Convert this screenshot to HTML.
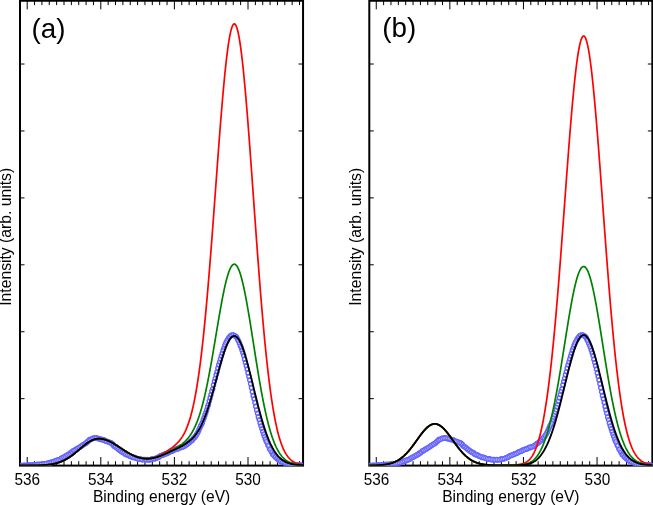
<!DOCTYPE html>
<html><head><meta charset="utf-8"><title>XPS</title>
<style>html,body{margin:0;padding:0;background:#fff;}body{width:653px;height:505px;overflow:hidden;font-family:"Liberation Sans",sans-serif;}svg{display:block;will-change:transform;}</style>
</head><body>
<svg width="653" height="505" viewBox="0 0 653 505" font-family="Liberation Sans, sans-serif" fill="#000"><rect width="653" height="505" fill="#fff"/><clipPath id="ca"><rect x="20.0" y="0.75" width="283.05" height="465.0"/></clipPath>
<rect x="20.0" y="0.75" width="283.05" height="464.85" fill="none" stroke="#000" stroke-width="2"/>
<path d="M27.20,465.6v-8.6M27.20,0.75v8.6M34.56,465.6v-4.4M34.56,0.75v4.4M41.92,465.6v-4.4M41.92,0.75v4.4M49.28,465.6v-4.4M49.28,0.75v4.4M56.64,465.6v-4.4M56.64,0.75v4.4M64.00,465.6v-4.4M64.00,0.75v4.4M71.36,465.6v-4.4M71.36,0.75v4.4M78.72,465.6v-4.4M78.72,0.75v4.4M86.08,465.6v-4.4M86.08,0.75v4.4M93.44,465.6v-4.4M93.44,0.75v4.4M100.80,465.6v-8.6M100.80,0.75v8.6M108.16,465.6v-4.4M108.16,0.75v4.4M115.52,465.6v-4.4M115.52,0.75v4.4M122.88,465.6v-4.4M122.88,0.75v4.4M130.24,465.6v-4.4M130.24,0.75v4.4M137.60,465.6v-4.4M137.60,0.75v4.4M144.96,465.6v-4.4M144.96,0.75v4.4M152.32,465.6v-4.4M152.32,0.75v4.4M159.68,465.6v-4.4M159.68,0.75v4.4M167.04,465.6v-4.4M167.04,0.75v4.4M174.40,465.6v-8.6M174.40,0.75v8.6M181.76,465.6v-4.4M181.76,0.75v4.4M189.12,465.6v-4.4M189.12,0.75v4.4M196.48,465.6v-4.4M196.48,0.75v4.4M203.84,465.6v-4.4M203.84,0.75v4.4M211.20,465.6v-4.4M211.20,0.75v4.4M218.56,465.6v-4.4M218.56,0.75v4.4M225.92,465.6v-4.4M225.92,0.75v4.4M233.28,465.6v-4.4M233.28,0.75v4.4M240.64,465.6v-4.4M240.64,0.75v4.4M248.00,465.6v-8.6M248.00,0.75v8.6M255.36,465.6v-4.4M255.36,0.75v4.4M262.72,465.6v-4.4M262.72,0.75v4.4M270.08,465.6v-4.4M270.08,0.75v4.4M277.44,465.6v-4.4M277.44,0.75v4.4M284.80,465.6v-4.4M284.80,0.75v4.4M292.16,465.6v-4.4M292.16,0.75v4.4M299.52,465.6v-4.4M299.52,0.75v4.4" stroke="#000" stroke-width="1" fill="none"/>
<path d="M20.0,398.67h4.5M303.05,398.67h-4.5M20.0,331.74h4.5M303.05,331.74h-4.5M20.0,264.81h4.5M303.05,264.81h-4.5M20.0,197.88h4.5M303.05,197.88h-4.5M20.0,130.95h4.5M303.05,130.95h-4.5M20.0,64.02h4.5M303.05,64.02h-4.5" stroke="#000" stroke-width="1" fill="none"/>
<g clip-path="url(#ca)" fill="none" stroke="#6666ff" stroke-width="1.5"><circle cx="18.04" cy="465.03" r="2.0"/><circle cx="18.90" cy="465.55" r="2.0"/><circle cx="19.76" cy="465.60" r="2.0"/><circle cx="20.62" cy="465.80" r="2.0"/><circle cx="21.48" cy="465.48" r="2.0"/><circle cx="22.34" cy="465.55" r="2.0"/><circle cx="23.21" cy="465.59" r="2.0"/><circle cx="24.07" cy="465.36" r="2.0"/><circle cx="24.93" cy="465.31" r="2.0"/><circle cx="25.79" cy="465.65" r="2.0"/><circle cx="26.65" cy="465.57" r="2.0"/><circle cx="27.51" cy="465.43" r="2.0"/><circle cx="28.37" cy="465.10" r="2.0"/><circle cx="29.23" cy="465.09" r="2.0"/><circle cx="30.10" cy="465.51" r="2.0"/><circle cx="30.96" cy="465.42" r="2.0"/><circle cx="31.82" cy="464.91" r="2.0"/><circle cx="32.68" cy="464.65" r="2.0"/><circle cx="33.54" cy="465.00" r="2.0"/><circle cx="34.40" cy="465.10" r="2.0"/><circle cx="35.26" cy="464.59" r="2.0"/><circle cx="36.12" cy="464.87" r="2.0"/><circle cx="36.99" cy="464.53" r="2.0"/><circle cx="37.85" cy="464.24" r="2.0"/><circle cx="38.71" cy="464.39" r="2.0"/><circle cx="39.57" cy="464.43" r="2.0"/><circle cx="40.43" cy="464.16" r="2.0"/><circle cx="41.29" cy="464.40" r="2.0"/><circle cx="42.15" cy="464.16" r="2.0"/><circle cx="43.01" cy="464.14" r="2.0"/><circle cx="43.88" cy="463.92" r="2.0"/><circle cx="44.74" cy="463.86" r="2.0"/><circle cx="45.60" cy="463.65" r="2.0"/><circle cx="46.46" cy="463.55" r="2.0"/><circle cx="47.32" cy="463.29" r="2.0"/><circle cx="48.18" cy="463.15" r="2.0"/><circle cx="49.04" cy="462.92" r="2.0"/><circle cx="49.90" cy="462.42" r="2.0"/><circle cx="50.77" cy="462.91" r="2.0"/><circle cx="51.63" cy="461.95" r="2.0"/><circle cx="52.49" cy="462.06" r="2.0"/><circle cx="53.35" cy="462.02" r="2.0"/><circle cx="54.21" cy="461.46" r="2.0"/><circle cx="55.07" cy="461.08" r="2.0"/><circle cx="55.93" cy="460.51" r="2.0"/><circle cx="56.79" cy="460.70" r="2.0"/><circle cx="57.66" cy="460.03" r="2.0"/><circle cx="58.52" cy="459.70" r="2.0"/><circle cx="59.38" cy="459.78" r="2.0"/><circle cx="60.24" cy="459.27" r="2.0"/><circle cx="61.10" cy="458.42" r="2.0"/><circle cx="61.96" cy="457.98" r="2.0"/><circle cx="62.82" cy="457.44" r="2.0"/><circle cx="63.69" cy="457.13" r="2.0"/><circle cx="64.55" cy="456.70" r="2.0"/><circle cx="65.41" cy="456.29" r="2.0"/><circle cx="66.27" cy="455.53" r="2.0"/><circle cx="67.13" cy="455.53" r="2.0"/><circle cx="67.99" cy="454.82" r="2.0"/><circle cx="68.85" cy="454.12" r="2.0"/><circle cx="69.71" cy="454.02" r="2.0"/><circle cx="70.58" cy="452.70" r="2.0"/><circle cx="71.44" cy="452.63" r="2.0"/><circle cx="72.30" cy="451.85" r="2.0"/><circle cx="73.16" cy="450.71" r="2.0"/><circle cx="74.02" cy="450.88" r="2.0"/><circle cx="74.88" cy="450.26" r="2.0"/><circle cx="75.74" cy="449.22" r="2.0"/><circle cx="76.60" cy="449.37" r="2.0"/><circle cx="77.47" cy="448.71" r="2.0"/><circle cx="78.33" cy="447.97" r="2.0"/><circle cx="79.19" cy="447.48" r="2.0"/><circle cx="80.05" cy="446.93" r="2.0"/><circle cx="80.91" cy="446.44" r="2.0"/><circle cx="81.77" cy="445.64" r="2.0"/><circle cx="82.63" cy="445.13" r="2.0"/><circle cx="83.49" cy="444.61" r="2.0"/><circle cx="84.36" cy="444.27" r="2.0"/><circle cx="85.22" cy="443.61" r="2.0"/><circle cx="86.08" cy="443.24" r="2.0"/><circle cx="86.94" cy="441.92" r="2.0"/><circle cx="87.80" cy="441.83" r="2.0"/><circle cx="88.66" cy="440.44" r="2.0"/><circle cx="89.52" cy="439.56" r="2.0"/><circle cx="90.38" cy="439.80" r="2.0"/><circle cx="91.25" cy="439.29" r="2.0"/><circle cx="92.11" cy="438.83" r="2.0"/><circle cx="92.97" cy="438.16" r="2.0"/><circle cx="93.83" cy="438.32" r="2.0"/><circle cx="94.69" cy="437.99" r="2.0"/><circle cx="95.55" cy="438.09" r="2.0"/><circle cx="96.41" cy="438.12" r="2.0"/><circle cx="97.27" cy="437.90" r="2.0"/><circle cx="98.14" cy="438.69" r="2.0"/><circle cx="99.00" cy="438.68" r="2.0"/><circle cx="99.86" cy="438.89" r="2.0"/><circle cx="100.72" cy="438.99" r="2.0"/><circle cx="101.58" cy="439.77" r="2.0"/><circle cx="102.44" cy="439.44" r="2.0"/><circle cx="103.30" cy="439.89" r="2.0"/><circle cx="104.17" cy="440.08" r="2.0"/><circle cx="105.03" cy="440.60" r="2.0"/><circle cx="105.89" cy="441.36" r="2.0"/><circle cx="106.75" cy="441.47" r="2.0"/><circle cx="107.61" cy="441.47" r="2.0"/><circle cx="108.47" cy="442.06" r="2.0"/><circle cx="109.33" cy="442.49" r="2.0"/><circle cx="110.19" cy="442.46" r="2.0"/><circle cx="111.06" cy="442.81" r="2.0"/><circle cx="111.92" cy="443.91" r="2.0"/><circle cx="112.78" cy="444.04" r="2.0"/><circle cx="113.64" cy="445.70" r="2.0"/><circle cx="114.50" cy="446.44" r="2.0"/><circle cx="115.36" cy="446.46" r="2.0"/><circle cx="116.22" cy="447.50" r="2.0"/><circle cx="117.08" cy="448.05" r="2.0"/><circle cx="117.95" cy="448.79" r="2.0"/><circle cx="118.81" cy="449.63" r="2.0"/><circle cx="119.67" cy="450.06" r="2.0"/><circle cx="120.53" cy="450.77" r="2.0"/><circle cx="121.39" cy="451.76" r="2.0"/><circle cx="122.25" cy="451.90" r="2.0"/><circle cx="123.11" cy="452.47" r="2.0"/><circle cx="123.97" cy="452.61" r="2.0"/><circle cx="124.84" cy="453.88" r="2.0"/><circle cx="125.70" cy="454.10" r="2.0"/><circle cx="126.56" cy="454.70" r="2.0"/><circle cx="127.42" cy="455.07" r="2.0"/><circle cx="128.28" cy="455.04" r="2.0"/><circle cx="129.14" cy="455.73" r="2.0"/><circle cx="130.00" cy="456.29" r="2.0"/><circle cx="130.86" cy="456.47" r="2.0"/><circle cx="131.73" cy="456.65" r="2.0"/><circle cx="132.59" cy="457.40" r="2.0"/><circle cx="133.45" cy="457.52" r="2.0"/><circle cx="134.31" cy="457.35" r="2.0"/><circle cx="135.17" cy="457.79" r="2.0"/><circle cx="136.03" cy="458.25" r="2.0"/><circle cx="136.89" cy="458.58" r="2.0"/><circle cx="137.75" cy="458.68" r="2.0"/><circle cx="138.62" cy="459.19" r="2.0"/><circle cx="139.48" cy="458.72" r="2.0"/><circle cx="140.34" cy="459.01" r="2.0"/><circle cx="141.20" cy="459.20" r="2.0"/><circle cx="142.06" cy="459.69" r="2.0"/><circle cx="142.92" cy="459.66" r="2.0"/><circle cx="143.78" cy="459.45" r="2.0"/><circle cx="144.64" cy="459.60" r="2.0"/><circle cx="145.51" cy="459.85" r="2.0"/><circle cx="146.37" cy="459.64" r="2.0"/><circle cx="147.23" cy="459.56" r="2.0"/><circle cx="148.09" cy="459.95" r="2.0"/><circle cx="148.95" cy="459.85" r="2.0"/><circle cx="149.81" cy="459.83" r="2.0"/><circle cx="150.67" cy="459.76" r="2.0"/><circle cx="151.54" cy="459.09" r="2.0"/><circle cx="152.40" cy="458.96" r="2.0"/><circle cx="153.26" cy="458.78" r="2.0"/><circle cx="154.12" cy="458.92" r="2.0"/><circle cx="154.98" cy="458.64" r="2.0"/><circle cx="155.84" cy="458.14" r="2.0"/><circle cx="156.70" cy="457.98" r="2.0"/><circle cx="157.56" cy="457.59" r="2.0"/><circle cx="158.43" cy="457.48" r="2.0"/><circle cx="159.29" cy="456.79" r="2.0"/><circle cx="160.15" cy="456.12" r="2.0"/><circle cx="161.01" cy="455.78" r="2.0"/><circle cx="161.87" cy="455.35" r="2.0"/><circle cx="162.73" cy="455.32" r="2.0"/><circle cx="163.59" cy="454.68" r="2.0"/><circle cx="164.45" cy="454.60" r="2.0"/><circle cx="165.32" cy="453.86" r="2.0"/><circle cx="166.18" cy="453.78" r="2.0"/><circle cx="167.04" cy="453.41" r="2.0"/><circle cx="167.90" cy="453.03" r="2.0"/><circle cx="168.76" cy="452.29" r="2.0"/><circle cx="169.62" cy="451.98" r="2.0"/><circle cx="170.48" cy="451.60" r="2.0"/><circle cx="171.34" cy="451.53" r="2.0"/><circle cx="172.21" cy="450.82" r="2.0"/><circle cx="173.07" cy="450.84" r="2.0"/><circle cx="173.93" cy="449.74" r="2.0"/><circle cx="174.79" cy="449.79" r="2.0"/><circle cx="175.65" cy="449.36" r="2.0"/><circle cx="176.51" cy="449.09" r="2.0"/><circle cx="177.37" cy="449.12" r="2.0"/><circle cx="178.23" cy="448.73" r="2.0"/><circle cx="179.10" cy="448.06" r="2.0"/><circle cx="179.96" cy="447.34" r="2.0"/><circle cx="180.82" cy="447.65" r="2.0"/><circle cx="181.68" cy="447.19" r="2.0"/><circle cx="182.54" cy="446.66" r="2.0"/><circle cx="183.40" cy="446.68" r="2.0"/><circle cx="184.26" cy="446.26" r="2.0"/><circle cx="185.12" cy="445.50" r="2.0"/><circle cx="185.99" cy="444.93" r="2.0"/><circle cx="186.85" cy="444.50" r="2.0"/><circle cx="187.71" cy="443.46" r="2.0"/><circle cx="188.57" cy="443.27" r="2.0"/><circle cx="189.43" cy="442.48" r="2.0"/><circle cx="190.29" cy="441.45" r="2.0"/><circle cx="191.15" cy="440.64" r="2.0"/><circle cx="192.02" cy="440.61" r="2.0"/><circle cx="192.88" cy="439.37" r="2.0"/><circle cx="193.74" cy="437.97" r="2.0"/><circle cx="194.60" cy="437.50" r="2.0"/><circle cx="195.46" cy="436.18" r="2.0"/><circle cx="196.32" cy="434.97" r="2.0"/><circle cx="197.18" cy="433.58" r="2.0"/><circle cx="198.04" cy="432.00" r="2.0"/><circle cx="198.91" cy="430.04" r="2.0"/><circle cx="199.77" cy="428.01" r="2.0"/><circle cx="200.63" cy="426.07" r="2.0"/><circle cx="201.49" cy="424.45" r="2.0"/><circle cx="202.35" cy="422.82" r="2.0"/><circle cx="203.21" cy="420.10" r="2.0"/><circle cx="204.07" cy="417.80" r="2.0"/><circle cx="204.93" cy="415.14" r="2.0"/><circle cx="205.80" cy="412.65" r="2.0"/><circle cx="206.66" cy="410.35" r="2.0"/><circle cx="207.52" cy="406.97" r="2.0"/><circle cx="208.38" cy="404.66" r="2.0"/><circle cx="209.24" cy="401.30" r="2.0"/><circle cx="210.10" cy="397.95" r="2.0"/><circle cx="210.96" cy="394.77" r="2.0"/><circle cx="211.82" cy="391.24" r="2.0"/><circle cx="212.69" cy="388.94" r="2.0"/><circle cx="213.55" cy="384.94" r="2.0"/><circle cx="214.41" cy="381.52" r="2.0"/><circle cx="215.27" cy="378.43" r="2.0"/><circle cx="216.13" cy="374.85" r="2.0"/><circle cx="216.99" cy="371.98" r="2.0"/><circle cx="217.85" cy="368.27" r="2.0"/><circle cx="218.71" cy="365.09" r="2.0"/><circle cx="219.58" cy="362.34" r="2.0"/><circle cx="220.44" cy="359.22" r="2.0"/><circle cx="221.30" cy="356.17" r="2.0"/><circle cx="222.16" cy="353.49" r="2.0"/><circle cx="223.02" cy="350.41" r="2.0"/><circle cx="223.88" cy="348.13" r="2.0"/><circle cx="224.74" cy="345.52" r="2.0"/><circle cx="225.60" cy="343.43" r="2.0"/><circle cx="226.47" cy="341.78" r="2.0"/><circle cx="227.33" cy="340.13" r="2.0"/><circle cx="228.19" cy="338.84" r="2.0"/><circle cx="229.05" cy="337.56" r="2.0"/><circle cx="229.91" cy="336.56" r="2.0"/><circle cx="230.77" cy="335.53" r="2.0"/><circle cx="231.63" cy="335.35" r="2.0"/><circle cx="232.49" cy="334.89" r="2.0"/><circle cx="233.36" cy="334.91" r="2.0"/><circle cx="234.22" cy="335.41" r="2.0"/><circle cx="235.08" cy="335.94" r="2.0"/><circle cx="235.94" cy="336.42" r="2.0"/><circle cx="236.80" cy="337.54" r="2.0"/><circle cx="237.66" cy="339.56" r="2.0"/><circle cx="238.52" cy="341.10" r="2.0"/><circle cx="239.39" cy="343.08" r="2.0"/><circle cx="240.25" cy="345.24" r="2.0"/><circle cx="241.11" cy="347.18" r="2.0"/><circle cx="241.97" cy="350.01" r="2.0"/><circle cx="242.83" cy="352.68" r="2.0"/><circle cx="243.69" cy="355.53" r="2.0"/><circle cx="244.55" cy="359.24" r="2.0"/><circle cx="245.41" cy="362.47" r="2.0"/><circle cx="246.28" cy="365.83" r="2.0"/><circle cx="247.14" cy="369.10" r="2.0"/><circle cx="248.00" cy="372.99" r="2.0"/><circle cx="248.86" cy="376.48" r="2.0"/><circle cx="249.72" cy="380.07" r="2.0"/><circle cx="250.58" cy="383.82" r="2.0"/><circle cx="251.44" cy="387.76" r="2.0"/><circle cx="252.30" cy="391.82" r="2.0"/><circle cx="253.17" cy="395.74" r="2.0"/><circle cx="254.03" cy="398.76" r="2.0"/><circle cx="254.89" cy="402.57" r="2.0"/><circle cx="255.75" cy="406.49" r="2.0"/><circle cx="256.61" cy="409.88" r="2.0"/><circle cx="257.47" cy="413.28" r="2.0"/><circle cx="258.33" cy="416.90" r="2.0"/><circle cx="259.19" cy="419.62" r="2.0"/><circle cx="260.06" cy="422.98" r="2.0"/><circle cx="260.92" cy="425.84" r="2.0"/><circle cx="261.78" cy="428.43" r="2.0"/><circle cx="262.64" cy="431.37" r="2.0"/><circle cx="263.50" cy="433.81" r="2.0"/><circle cx="264.36" cy="436.31" r="2.0"/><circle cx="265.22" cy="438.74" r="2.0"/><circle cx="266.08" cy="440.93" r="2.0"/><circle cx="266.95" cy="442.55" r="2.0"/><circle cx="267.81" cy="444.99" r="2.0"/><circle cx="268.67" cy="446.35" r="2.0"/><circle cx="269.53" cy="448.68" r="2.0"/><circle cx="270.39" cy="449.83" r="2.0"/><circle cx="271.25" cy="451.41" r="2.0"/><circle cx="272.11" cy="452.97" r="2.0"/><circle cx="272.97" cy="454.68" r="2.0"/><circle cx="273.84" cy="454.75" r="2.0"/><circle cx="274.70" cy="456.46" r="2.0"/><circle cx="275.56" cy="457.36" r="2.0"/><circle cx="276.42" cy="457.94" r="2.0"/><circle cx="277.28" cy="458.73" r="2.0"/><circle cx="278.14" cy="459.38" r="2.0"/><circle cx="279.00" cy="460.15" r="2.0"/><circle cx="279.87" cy="461.04" r="2.0"/><circle cx="280.73" cy="460.97" r="2.0"/><circle cx="281.59" cy="461.88" r="2.0"/><circle cx="282.45" cy="462.02" r="2.0"/><circle cx="283.31" cy="462.31" r="2.0"/><circle cx="284.17" cy="462.50" r="2.0"/><circle cx="285.03" cy="463.16" r="2.0"/><circle cx="285.89" cy="463.46" r="2.0"/><circle cx="286.76" cy="463.69" r="2.0"/><circle cx="287.62" cy="464.32" r="2.0"/><circle cx="288.48" cy="464.25" r="2.0"/><circle cx="289.34" cy="464.50" r="2.0"/><circle cx="290.20" cy="464.70" r="2.0"/><circle cx="291.06" cy="464.52" r="2.0"/><circle cx="291.92" cy="464.77" r="2.0"/><circle cx="292.78" cy="464.41" r="2.0"/><circle cx="293.65" cy="464.53" r="2.0"/><circle cx="294.51" cy="465.46" r="2.0"/><circle cx="295.37" cy="465.03" r="2.0"/><circle cx="296.23" cy="465.37" r="2.0"/><circle cx="297.09" cy="465.03" r="2.0"/><circle cx="297.95" cy="465.17" r="2.0"/><circle cx="298.81" cy="465.01" r="2.0"/><circle cx="299.67" cy="465.18" r="2.0"/><circle cx="300.54" cy="465.09" r="2.0"/><circle cx="301.40" cy="465.36" r="2.0"/><circle cx="302.26" cy="465.80" r="2.0"/><circle cx="303.12" cy="465.59" r="2.0"/><circle cx="303.98" cy="465.51" r="2.0"/><circle cx="304.84" cy="465.42" r="2.0"/><circle cx="305.70" cy="465.56" r="2.0"/></g>
<g clip-path="url(#ca)" fill="none" stroke="#fff" stroke-opacity="0.9"><path d="M18.13,463.89L17.94,466.18" stroke-width="0.50"/><path d="M19.84,464.45L19.68,466.75" stroke-width="0.50"/><path d="M21.51,464.33L21.46,466.63" stroke-width="0.50"/><path d="M23.19,464.44L23.22,466.74" stroke-width="0.50"/><path d="M24.89,464.16L24.96,466.46" stroke-width="0.50"/><path d="M26.60,464.42L26.70,466.72" stroke-width="0.50"/><path d="M28.31,463.95L28.44,466.24" stroke-width="0.50"/><path d="M30.01,464.37L30.18,466.66" stroke-width="0.50"/><path d="M31.72,463.77L31.91,466.06" stroke-width="0.50"/><path d="M33.44,463.86L33.65,466.15" stroke-width="0.50"/><path d="M35.15,463.45L35.37,465.74" stroke-width="0.50"/><path d="M36.88,463.39L37.10,465.68" stroke-width="0.50"/><path d="M38.61,463.24L38.81,465.53" stroke-width="0.50"/><path d="M40.33,463.02L40.53,465.31" stroke-width="0.50"/><path d="M42.03,463.02L42.28,465.31" stroke-width="0.50"/><path d="M43.71,462.78L44.04,465.06" stroke-width="0.50"/><path d="M45.39,462.52L45.81,464.78" stroke-width="0.50"/><path d="M47.08,462.17L47.56,464.42" stroke-width="0.50"/><path d="M48.77,461.80L49.31,464.04" stroke-width="0.50"/><path d="M50.47,461.80L51.06,464.02" stroke-width="0.50"/><path d="M52.15,460.96L52.82,463.16" stroke-width="0.50"/><path d="M53.84,460.37L54.59,462.54" stroke-width="0.50"/><path d="M55.53,459.43L56.34,461.58" stroke-width="0.50"/><path d="M57.22,458.97L58.09,461.10" stroke-width="0.51"/><path d="M58.89,458.74L59.86,460.83" stroke-width="0.51"/><path d="M60.58,457.40L61.63,459.44" stroke-width="0.51"/><path d="M62.28,456.43L63.37,458.45" stroke-width="0.52"/><path d="M64.00,455.69L65.10,457.71" stroke-width="0.52"/><path d="M65.70,454.53L66.84,456.53" stroke-width="0.52"/><path d="M67.39,453.83L68.59,455.80" stroke-width="0.52"/><path d="M69.08,453.06L70.35,454.98" stroke-width="0.53"/><path d="M70.79,451.68L72.08,453.58" stroke-width="0.53"/><path d="M72.53,449.75L73.79,451.67" stroke-width="0.53"/><path d="M74.27,449.29L75.50,451.24" stroke-width="0.52"/><path d="M76.00,448.39L77.21,450.35" stroke-width="0.52"/><path d="M77.71,447.00L78.94,448.94" stroke-width="0.52"/><path d="M79.42,445.96L80.67,447.89" stroke-width="0.53"/><path d="M81.14,444.68L82.40,446.60" stroke-width="0.53"/><path d="M82.85,443.65L84.14,445.56" stroke-width="0.53"/><path d="M84.55,442.67L85.89,444.54" stroke-width="0.53"/><path d="M86.26,440.99L87.62,442.85" stroke-width="0.53"/><path d="M88.02,439.49L89.31,441.39" stroke-width="0.53"/><path d="M89.83,438.79L90.94,440.81" stroke-width="0.52"/><path d="M91.70,437.76L92.52,439.91" stroke-width="0.50"/><path d="M93.60,437.19L94.06,439.45" stroke-width="0.50"/><path d="M95.52,436.94L95.58,439.24" stroke-width="0.50"/><path d="M97.41,436.76L97.14,439.05" stroke-width="0.50"/><path d="M99.25,437.55L98.75,439.80" stroke-width="0.50"/><path d="M101.03,437.88L100.41,440.10" stroke-width="0.50"/><path d="M102.80,438.35L102.08,440.53" stroke-width="0.50"/><path d="M104.57,439.00L103.76,441.16" stroke-width="0.50"/><path d="M106.31,440.29L105.46,442.43" stroke-width="0.51"/><path d="M108.06,440.41L107.16,442.53" stroke-width="0.51"/><path d="M109.85,441.46L108.82,443.52" stroke-width="0.51"/><path d="M111.67,441.84L110.44,443.79" stroke-width="0.52"/><path d="M113.47,443.12L112.09,444.96" stroke-width="0.54"/><path d="M115.22,445.54L113.78,447.34" stroke-width="0.54"/><path d="M116.94,446.61L115.51,448.40" stroke-width="0.54"/><path d="M118.65,447.88L117.24,449.70" stroke-width="0.54"/><path d="M120.35,449.14L118.99,450.99" stroke-width="0.53"/><path d="M122.04,450.81L120.74,452.71" stroke-width="0.53"/><path d="M123.73,451.49L122.50,453.44" stroke-width="0.52"/><path d="M125.41,452.88L124.26,454.87" stroke-width="0.52"/><path d="M127.09,453.68L126.03,455.71" stroke-width="0.51"/><path d="M128.77,454.00L127.79,456.08" stroke-width="0.51"/><path d="M130.45,455.23L129.56,457.35" stroke-width="0.51"/><path d="M132.13,455.57L131.32,457.72" stroke-width="0.50"/><path d="M133.81,456.43L133.09,458.61" stroke-width="0.50"/><path d="M135.50,456.69L134.84,458.89" stroke-width="0.50"/><path d="M137.18,457.46L136.61,459.69" stroke-width="0.50"/><path d="M138.85,458.07L138.38,460.32" stroke-width="0.50"/><path d="M140.53,457.88L140.15,460.15" stroke-width="0.50"/><path d="M142.21,458.55L141.92,460.83" stroke-width="0.50"/><path d="M143.88,458.31L143.69,460.60" stroke-width="0.50"/><path d="M145.56,458.70L145.46,461.00" stroke-width="0.50"/><path d="M147.22,458.41L147.24,460.71" stroke-width="0.50"/><path d="M148.86,458.70L149.05,460.99" stroke-width="0.50"/><path d="M150.49,458.62L150.86,460.89" stroke-width="0.50"/><path d="M152.15,457.84L152.64,460.08" stroke-width="0.50"/><path d="M153.82,457.81L154.42,460.03" stroke-width="0.50"/><path d="M155.47,457.05L156.21,459.23" stroke-width="0.50"/><path d="M157.13,456.52L158.00,458.65" stroke-width="0.51"/><path d="M158.81,455.74L159.76,457.84" stroke-width="0.51"/><path d="M160.53,454.73L161.49,456.83" stroke-width="0.51"/><path d="M162.27,454.26L163.19,456.37" stroke-width="0.51"/><path d="M164.00,453.54L164.91,455.65" stroke-width="0.51"/><path d="M165.71,452.73L166.64,454.84" stroke-width="0.51"/><path d="M167.42,451.99L168.38,454.08" stroke-width="0.51"/><path d="M169.14,450.94L170.10,453.03" stroke-width="0.51"/><path d="M170.88,450.48L171.81,452.58" stroke-width="0.51"/><path d="M172.61,449.78L173.52,451.89" stroke-width="0.51"/><path d="M174.36,448.72L175.22,450.85" stroke-width="0.51"/><path d="M176.09,448.02L176.93,450.16" stroke-width="0.50"/><path d="M177.81,447.66L178.66,449.80" stroke-width="0.51"/><path d="M179.53,446.28L180.39,448.41" stroke-width="0.51"/><path d="M181.23,446.13L182.13,448.25" stroke-width="0.51"/><path d="M182.89,445.65L183.92,447.70" stroke-width="0.51"/><path d="M184.53,444.51L185.72,446.48" stroke-width="0.52"/><path d="M186.19,443.56L187.51,445.44" stroke-width="0.53"/><path d="M187.86,442.37L189.28,444.18" stroke-width="0.54"/><path d="M189.53,440.59L191.06,442.31" stroke-width="0.55"/><path d="M191.19,439.80L192.84,441.41" stroke-width="0.57"/><path d="M192.85,437.24L194.63,438.70" stroke-width="0.59"/><path d="M194.51,435.54L196.41,436.83" stroke-width="0.63"/><path d="M195.35,434.37L197.30,435.58" stroke-width="0.65"/><path d="M196.18,433.01L198.18,434.15" stroke-width="0.67"/><path d="M197.03,431.46L199.06,432.54" stroke-width="0.69"/><path d="M197.87,429.53L199.94,430.55" stroke-width="0.71"/><path d="M198.72,427.53L200.81,428.50" stroke-width="0.73"/><path d="M199.58,425.61L201.68,426.54" stroke-width="0.75"/><path d="M200.43,424.01L202.55,424.90" stroke-width="0.77"/><path d="M201.28,422.40L203.42,423.25" stroke-width="0.79"/><path d="M202.14,419.69L204.29,420.50" stroke-width="0.81"/><path d="M202.99,417.41L205.16,418.19" stroke-width="0.83"/><path d="M203.85,414.76L206.02,415.51" stroke-width="0.85"/><path d="M204.70,412.29L206.89,413.01" stroke-width="0.87"/><path d="M205.56,410.00L207.75,410.69" stroke-width="0.89"/><path d="M206.42,406.64L208.62,407.30" stroke-width="0.92"/><path d="M207.28,404.34L209.48,404.99" stroke-width="0.93"/><path d="M208.13,400.99L210.35,401.62" stroke-width="0.95"/><path d="M208.99,397.65L211.21,398.26" stroke-width="0.97"/><path d="M209.85,394.47L212.07,395.07" stroke-width="0.98"/><path d="M210.71,390.94L212.94,391.53" stroke-width="0.99"/><path d="M211.57,388.64L213.80,389.23" stroke-width="0.99"/><path d="M212.43,384.65L214.66,385.24" stroke-width="1.00"/><path d="M213.30,381.23L215.52,381.81" stroke-width="1.00"/><path d="M214.16,378.14L216.38,378.72" stroke-width="1.00"/><path d="M215.02,374.56L217.24,375.15" stroke-width="0.99"/><path d="M215.88,371.68L218.10,372.28" stroke-width="0.98"/><path d="M216.74,367.97L218.96,368.57" stroke-width="0.97"/><path d="M217.61,364.78L219.82,365.40" stroke-width="0.96"/><path d="M218.47,362.02L220.68,362.65" stroke-width="0.95"/><path d="M219.33,358.90L221.54,359.55" stroke-width="0.93"/><path d="M220.20,355.84L222.40,356.51" stroke-width="0.91"/><path d="M221.06,353.14L223.25,353.84" stroke-width="0.88"/><path d="M221.93,350.04L224.11,350.78" stroke-width="0.85"/><path d="M222.80,347.73L224.96,348.52" stroke-width="0.82"/><path d="M223.68,345.10L225.81,345.95" stroke-width="0.79"/><path d="M224.55,342.96L226.66,343.89" stroke-width="0.75"/><path d="M225.44,341.27L227.50,342.29" stroke-width="0.71"/><path d="M226.33,339.57L228.33,340.70" stroke-width="0.67"/><path d="M228.15,336.84L229.95,338.28" stroke-width="0.59"/><path d="M230.12,334.58L231.43,336.47" stroke-width="0.53"/><path d="M232.38,333.75L232.61,336.04" stroke-width="0.50"/><path d="M234.75,334.39L233.69,336.43" stroke-width="0.51"/><path d="M236.81,335.67L235.07,337.17" stroke-width="0.58"/><path d="M238.66,339.00L236.66,340.13" stroke-width="0.67"/><path d="M239.56,340.60L237.49,341.61" stroke-width="0.71"/><path d="M240.44,342.63L238.33,343.54" stroke-width="0.75"/><path d="M241.32,344.82L239.17,345.65" stroke-width="0.79"/><path d="M242.19,346.80L240.02,347.57" stroke-width="0.83"/><path d="M243.06,349.65L240.88,350.37" stroke-width="0.87"/><path d="M243.93,352.34L241.73,353.01" stroke-width="0.91"/><path d="M244.80,355.22L242.59,355.85" stroke-width="0.94"/><path d="M245.66,358.93L243.44,359.54" stroke-width="0.97"/><path d="M246.53,362.18L244.30,362.76" stroke-width="1.00"/><path d="M247.39,365.54L245.16,366.11" stroke-width="1.00"/><path d="M248.25,368.83L246.02,369.38" stroke-width="1.00"/><path d="M249.12,372.72L246.88,373.26" stroke-width="1.00"/><path d="M249.98,376.21L247.74,376.74" stroke-width="1.00"/><path d="M250.84,379.81L248.60,380.33" stroke-width="1.00"/><path d="M251.70,383.56L249.46,384.08" stroke-width="1.00"/><path d="M252.56,387.50L250.32,388.02" stroke-width="1.00"/><path d="M253.42,391.56L251.18,392.08" stroke-width="1.00"/><path d="M254.29,395.48L252.05,396.00" stroke-width="1.00"/><path d="M255.15,398.50L252.91,399.03" stroke-width="1.00"/><path d="M256.01,402.30L253.77,402.84" stroke-width="1.00"/><path d="M256.87,406.22L254.63,406.76" stroke-width="1.00"/><path d="M257.73,409.60L255.50,410.16" stroke-width="1.00"/><path d="M258.59,412.99L256.36,413.56" stroke-width="1.00"/><path d="M259.44,416.60L257.22,417.19" stroke-width="0.99"/><path d="M260.30,419.32L258.09,419.93" stroke-width="0.96"/><path d="M261.16,422.66L258.95,423.30" stroke-width="0.94"/><path d="M262.02,425.50L259.82,426.17" stroke-width="0.92"/><path d="M262.88,428.09L260.68,428.78" stroke-width="0.90"/><path d="M263.73,431.01L261.55,431.73" stroke-width="0.87"/><path d="M264.59,433.43L262.41,434.18" stroke-width="0.85"/><path d="M265.44,435.91L263.28,436.70" stroke-width="0.83"/><path d="M266.30,438.33L264.15,439.15" stroke-width="0.80"/><path d="M267.15,440.50L265.02,441.36" stroke-width="0.78"/><path d="M268.00,442.10L265.89,443.00" stroke-width="0.76"/><path d="M268.85,444.52L266.76,445.47" stroke-width="0.74"/><path d="M269.70,445.86L267.63,446.85" stroke-width="0.72"/><path d="M270.55,448.15L268.51,449.20" stroke-width="0.70"/><path d="M271.40,449.27L269.38,450.38" stroke-width="0.68"/><path d="M272.24,450.83L270.26,452.00" stroke-width="0.66"/><path d="M273.91,454.02L272.04,455.35" stroke-width="0.62"/><path d="M275.57,455.72L273.82,457.21" stroke-width="0.58"/><path d="M277.22,457.11L275.62,458.77" stroke-width="0.56"/><path d="M278.86,458.48L277.43,460.28" stroke-width="0.54"/><path d="M280.49,460.07L279.24,462.00" stroke-width="0.53"/><path d="M282.12,460.86L281.05,462.89" stroke-width="0.51"/><path d="M283.78,461.26L282.84,463.36" stroke-width="0.51"/><path d="M285.45,462.09L284.61,464.23" stroke-width="0.50"/><path d="M287.11,462.60L286.40,464.79" stroke-width="0.50"/><path d="M288.74,463.13L288.22,465.37" stroke-width="0.50"/><path d="M290.38,463.56L290.03,465.84" stroke-width="0.50"/><path d="M292.06,463.63L291.79,465.91" stroke-width="0.50"/><path d="M293.76,463.39L293.53,465.68" stroke-width="0.50"/><path d="M295.46,463.89L295.28,466.18" stroke-width="0.50"/><path d="M297.15,463.89L297.03,466.18" stroke-width="0.50"/><path d="M298.88,463.86L298.75,466.16" stroke-width="0.50"/><path d="M300.61,463.94L300.46,466.23" stroke-width="0.50"/><path d="M302.32,464.65L302.19,466.95" stroke-width="0.50"/><path d="M304.02,464.36L303.94,466.66" stroke-width="0.50"/><path d="M305.72,464.41L305.68,466.71" stroke-width="0.50"/></g>
<g clip-path="url(#ca)" fill="none" stroke-linejoin="round">
<path d="M16.21,465.50 L16.53,465.50 L16.86,465.50 L17.18,465.50 L17.51,465.50 L17.84,465.50 L18.16,465.50 L18.49,465.50 L18.81,465.50 L19.14,465.50 L19.47,465.50 L19.79,465.49 L20.12,465.49 L20.44,465.49 L20.77,465.49 L21.10,465.49 L21.42,465.49 L21.75,465.49 L22.08,465.49 L22.40,465.49 L22.73,465.49 L23.05,465.49 L23.38,465.49 L23.71,465.49 L24.03,465.49 L24.36,465.49 L24.68,465.49 L25.01,465.48 L25.34,465.48 L25.66,465.48 L25.99,465.48 L26.32,465.48 L26.64,465.48 L26.97,465.48 L27.29,465.48 L27.62,465.47 L27.95,465.47 L28.27,465.47 L28.60,465.47 L28.92,465.47 L29.25,465.46 L29.58,465.46 L29.90,465.46 L30.23,465.46 L30.56,465.45 L30.88,465.45 L31.21,465.45 L31.53,465.45 L31.86,465.44 L32.19,465.44 L32.51,465.44 L32.84,465.43 L33.16,465.43 L33.49,465.42 L33.82,465.42 L34.14,465.41 L34.47,465.41 L34.79,465.40 L35.12,465.40 L35.45,465.39 L35.77,465.38 L36.10,465.38 L36.43,465.37 L36.75,465.36 L37.08,465.36 L37.40,465.35 L37.73,465.34 L38.06,465.33 L38.38,465.32 L38.71,465.31 L39.03,465.30 L39.36,465.29 L39.69,465.28 L40.01,465.26 L40.34,465.25 L40.67,465.24 L40.99,465.22 L41.32,465.21 L41.64,465.20 L41.97,465.18 L42.30,465.16 L42.62,465.15 L42.95,465.13 L43.27,465.11 L43.60,465.09 L43.93,465.07 L44.25,465.05 L44.58,465.02 L44.91,465.00 L45.23,464.97 L45.56,464.95 L45.88,464.92 L46.21,464.89 L46.54,464.86 L46.86,464.83 L47.19,464.80 L47.51,464.77 L47.84,464.74 L48.17,464.70 L48.49,464.66 L48.82,464.62 L49.15,464.58 L49.47,464.54 L49.80,464.50 L50.12,464.45 L50.45,464.41 L50.78,464.36 L51.10,464.31 L51.43,464.26 L51.75,464.20 L52.08,464.15 L52.41,464.09 L52.73,464.03 L53.06,463.97 L53.38,463.91 L53.71,463.84 L54.04,463.77 L54.36,463.70 L54.69,463.63 L55.02,463.55 L55.34,463.48 L55.67,463.40 L55.99,463.32 L56.32,463.23 L56.65,463.14 L56.97,463.05 L57.30,462.96 L57.62,462.86 L57.95,462.76 L58.28,462.66 L58.60,462.56 L58.93,462.45 L59.26,462.34 L59.58,462.23 L59.91,462.11 L60.23,461.99 L60.56,461.87 L60.89,461.74 L61.21,461.61 L61.54,461.48 L61.86,461.35 L62.19,461.21 L62.52,461.07 L62.84,460.92 L63.17,460.77 L63.50,460.62 L63.82,460.46 L64.15,460.30 L64.47,460.14 L64.80,459.97 L65.13,459.80 L65.45,459.63 L65.78,459.45 L66.10,459.27 L66.43,459.09 L66.76,458.90 L67.08,458.71 L67.41,458.52 L67.74,458.32 L68.06,458.12 L68.39,457.91 L68.71,457.71 L69.04,457.50 L69.37,457.28 L69.69,457.06 L70.02,456.84 L70.34,456.62 L70.67,456.39 L71.00,456.16 L71.32,455.93 L71.65,455.69 L71.97,455.45 L72.30,455.21 L72.63,454.96 L72.95,454.71 L73.28,454.46 L73.61,454.21 L73.93,453.96 L74.26,453.70 L74.58,453.44 L74.91,453.18 L75.24,452.91 L75.56,452.65 L75.89,452.38 L76.21,452.11 L76.54,451.84 L76.87,451.57 L77.19,451.30 L77.52,451.02 L77.85,450.75 L78.17,450.47 L78.50,450.19 L78.82,449.91 L79.15,449.64 L79.48,449.36 L79.80,449.08 L80.13,448.80 L80.45,448.52 L80.78,448.25 L81.11,447.97 L81.43,447.69 L81.76,447.42 L82.09,447.15 L82.41,446.87 L82.74,446.60 L83.06,446.33 L83.39,446.06 L83.72,445.80 L84.04,445.54 L84.37,445.27 L84.69,445.02 L85.02,444.76 L85.35,444.51 L85.67,444.26 L86.00,444.01 L86.33,443.77 L86.65,443.53 L86.98,443.29 L87.30,443.06 L87.63,442.84 L87.96,442.61 L88.28,442.40 L88.61,442.18 L88.93,441.98 L89.26,441.77 L89.59,441.57 L89.91,441.38 L90.24,441.19 L90.56,441.01 L90.89,440.84 L91.22,440.67 L91.54,440.51 L91.87,440.35 L92.20,440.20 L92.52,440.05 L92.85,439.92 L93.17,439.79 L93.50,439.66 L93.83,439.55 L94.15,439.44 L94.48,439.34 L94.80,439.24 L95.13,439.15 L95.46,439.07 L95.78,439.00 L96.11,438.93 L96.44,438.88 L96.76,438.83 L97.09,438.79 L97.41,438.75 L97.74,438.72 L98.07,438.71 L98.39,438.69 L98.72,438.69 L99.04,438.69 L99.37,438.70 L99.70,438.72 L100.02,438.73 L100.35,438.76 L100.68,438.79 L101.00,438.82 L101.33,438.86 L101.65,438.90 L101.98,438.95 L102.31,439.00 L102.63,439.06 L102.96,439.13 L103.28,439.19 L103.61,439.27 L103.94,439.35 L104.26,439.43 L104.59,439.52 L104.92,439.61 L105.24,439.71 L105.57,439.81 L105.89,439.91 L106.22,440.02 L106.55,440.14 L106.87,440.26 L107.20,440.38 L107.52,440.51 L107.85,440.64 L108.18,440.77 L108.50,440.91 L108.83,441.05 L109.15,441.20 L109.48,441.35 L109.81,441.51 L110.13,441.66 L110.46,441.82 L110.79,441.99 L111.11,442.15 L111.44,442.32 L111.76,442.50 L112.09,442.67 L112.42,442.85 L112.74,443.03 L113.07,443.22 L113.39,443.41 L113.72,443.59 L114.05,443.79 L114.37,443.98 L114.70,444.18 L115.03,444.37 L115.35,444.57 L115.68,444.77 L116.00,444.98 L116.33,445.18 L116.66,445.39 L116.98,445.59 L117.31,445.80 L117.63,446.01 L117.96,446.22 L118.29,446.44 L118.61,446.65 L118.94,446.86 L119.27,447.08 L119.59,447.29 L119.92,447.50 L120.24,447.72 L120.57,447.93 L120.90,448.15 L121.22,448.36 L121.55,448.58 L121.87,448.79 L122.20,449.01 L122.53,449.22 L122.85,449.44 L123.18,449.65 L123.51,449.86 L123.83,450.07 L124.16,450.28 L124.48,450.49 L124.81,450.70 L125.14,450.91 L125.46,451.11 L125.79,451.32 L126.11,451.52 L126.44,451.72 L126.77,451.92 L127.09,452.12 L127.42,452.31 L127.74,452.51 L128.07,452.70 L128.40,452.89 L128.72,453.08 L129.05,453.27 L129.38,453.45 L129.70,453.63 L130.03,453.81 L130.35,453.99 L130.68,454.16 L131.01,454.33 L131.33,454.50 L131.66,454.67 L131.98,454.83 L132.31,454.99 L132.64,455.15 L132.96,455.30 L133.29,455.45 L133.62,455.60 L133.94,455.75 L134.27,455.89 L134.59,456.03 L134.92,456.16 L135.25,456.30 L135.57,456.42 L135.90,456.55 L136.22,456.67 L136.55,456.79 L136.88,456.91 L137.20,457.02 L137.53,457.13 L137.86,457.23 L138.18,457.33 L138.51,457.43 L138.83,457.52 L139.16,457.61 L139.49,457.70 L139.81,457.78 L140.14,457.86 L140.46,457.93 L140.79,458.00 L141.12,458.07 L141.44,458.13 L141.77,458.19 L142.10,458.25 L142.42,458.30 L142.75,458.35 L143.07,458.39 L143.40,458.43 L143.73,458.46 L144.05,458.50 L144.38,458.52 L144.70,458.55 L145.03,458.57 L145.36,458.58 L145.68,458.59 L146.01,458.60 L146.33,458.60 L146.66,458.60 L146.99,458.59 L147.31,458.59 L147.64,458.57 L147.97,458.55 L148.29,458.53 L148.62,458.51 L148.94,458.48 L149.27,458.44 L149.60,458.40 L149.92,458.36 L150.25,458.32 L150.57,458.27 L150.90,458.21 L151.23,458.15 L151.55,458.09 L151.88,458.02 L152.21,457.95 L152.53,457.88 L152.86,457.80 L153.18,457.72 L153.51,457.63 L153.84,457.54 L154.16,457.45 L154.49,457.35 L154.81,457.25 L155.14,457.15 L155.47,457.04 L155.79,456.92 L156.12,456.81 L156.45,456.69 L156.77,456.57 L157.10,456.44 L157.42,456.31 L157.75,456.17 L158.08,456.04 L158.40,455.90 L158.73,455.75 L159.05,455.61 L159.38,455.46 L159.71,455.30 L160.03,455.15 L160.36,454.99 L160.69,454.83 L161.01,454.66 L161.34,454.49 L161.66,454.32 L161.99,454.15 L162.32,453.97 L162.64,453.80 L162.97,453.61 L163.29,453.43 L163.62,453.24 L163.95,453.06 L164.27,452.86 L164.60,452.67 L164.92,452.48 L165.25,452.28 L165.58,452.08 L165.90,451.88 L166.23,451.67 L166.56,451.46 L166.88,451.26 L167.21,451.05 L167.53,450.83 L167.86,450.62 L168.19,450.40 L168.51,450.18 L168.84,449.96 L169.16,449.73 L169.49,449.51 L169.82,449.28 L170.14,449.05 L170.47,448.81 L170.80,448.58 L171.12,448.34 L171.45,448.09 L171.77,447.85 L172.10,447.60 L172.43,447.35 L172.75,447.09 L173.08,446.83 L173.40,446.57 L173.73,446.30 L174.06,446.03 L174.38,445.76 L174.71,445.48 L175.04,445.19 L175.36,444.90 L175.69,444.60 L176.01,444.30 L176.34,443.99 L176.67,443.68 L176.99,443.35 L177.32,443.02 L177.64,442.69 L177.97,442.34 L178.30,441.98 L178.62,441.62 L178.95,441.25 L179.28,440.86 L179.60,440.47 L179.93,440.06 L180.25,439.64 L180.58,439.21 L180.91,438.77 L181.23,438.31 L181.56,437.84 L181.88,437.36 L182.21,436.85 L182.54,436.34 L182.86,435.80 L183.19,435.25 L183.51,434.68 L183.84,434.09 L184.17,433.48 L184.49,432.85 L184.82,432.20 L185.15,431.53 L185.47,430.84 L185.80,430.12 L186.12,429.37 L186.45,428.61 L186.78,427.81 L187.10,426.99 L187.43,426.15 L187.75,425.28 L188.08,424.38 L188.41,423.46 L188.73,422.51 L189.06,421.52 L189.39,420.51 L189.71,419.47 L190.04,418.39 L190.36,417.28 L190.69,416.14 L191.02,414.96 L191.34,413.75 L191.67,412.50 L191.99,411.21 L192.32,409.88 L192.65,408.52 L192.97,407.11 L193.30,405.66 L193.63,404.17 L193.95,402.63 L194.28,401.06 L194.60,399.43 L194.93,397.76 L195.26,396.05 L195.58,394.29 L195.91,392.47 L196.23,390.61 L196.56,388.71 L196.89,386.75 L197.21,384.73 L197.54,382.67 L197.87,380.56 L198.19,378.39 L198.52,376.17 L198.84,373.89 L199.17,371.56 L199.50,369.17 L199.82,366.73 L200.15,364.24 L200.47,361.68 L200.80,359.08 L201.13,356.41 L201.45,353.69 L201.78,350.91 L202.10,348.07 L202.43,345.18 L202.76,342.23 L203.08,339.22 L203.41,336.16 L203.74,333.04 L204.06,329.86 L204.39,326.63 L204.71,323.34 L205.04,320.00 L205.37,316.60 L205.69,313.15 L206.02,309.64 L206.34,306.09 L206.67,302.48 L207.00,298.82 L207.32,295.11 L207.65,291.35 L207.98,287.55 L208.30,283.69 L208.63,279.80 L208.95,275.85 L209.28,271.87 L209.61,267.85 L209.93,263.78 L210.26,259.68 L210.58,255.54 L210.91,251.36 L211.24,247.16 L211.56,242.92 L211.89,238.65 L212.22,234.36 L212.54,230.04 L212.87,225.70 L213.19,221.34 L213.52,216.96 L213.85,212.57 L214.17,208.16 L214.50,203.74 L214.82,199.31 L215.15,194.88 L215.48,190.44 L215.80,186.00 L216.13,181.56 L216.46,177.13 L216.78,172.71 L217.11,168.30 L217.43,163.90 L217.76,159.51 L218.09,155.15 L218.41,150.81 L218.74,146.49 L219.06,142.20 L219.39,137.95 L219.72,133.72 L220.04,129.54 L220.37,125.39 L220.69,121.29 L221.02,117.23 L221.35,113.23 L221.67,109.27 L222.00,105.37 L222.33,101.53 L222.65,97.76 L222.98,94.04 L223.30,90.39 L223.63,86.82 L223.96,83.32 L224.28,79.89 L224.61,76.54 L224.93,73.27 L225.26,70.09 L225.59,66.99 L225.91,63.99 L226.24,61.07 L226.57,58.25 L226.89,55.53 L227.22,52.90 L227.54,50.38 L227.87,47.96 L228.20,45.65 L228.52,43.44 L228.85,41.35 L229.17,39.36 L229.50,37.49 L229.83,35.74 L230.15,34.10 L230.48,32.58 L230.81,31.17 L231.13,29.89 L231.46,28.73 L231.78,27.69 L232.11,26.78 L232.44,25.99 L232.76,25.33 L233.09,24.79 L233.41,24.38 L233.74,24.10 L234.07,23.94 L234.39,23.91 L234.72,24.01 L235.05,24.23 L235.37,24.59 L235.70,25.07 L236.02,25.67 L236.35,26.41 L236.68,27.26 L237.00,28.25 L237.33,29.35 L237.65,30.58 L237.98,31.94 L238.31,33.41 L238.63,35.00 L238.96,36.71 L239.28,38.54 L239.61,40.48 L239.94,42.54 L240.26,44.71 L240.59,46.99 L240.92,49.38 L241.24,51.87 L241.57,54.47 L241.89,57.17 L242.22,59.97 L242.55,62.87 L242.87,65.86 L243.20,68.95 L243.52,72.12 L243.85,75.39 L244.18,78.74 L244.50,82.17 L244.83,85.68 L245.16,89.27 L245.48,92.93 L245.81,96.67 L246.13,100.47 L246.46,104.34 L246.79,108.27 L247.11,112.26 L247.44,116.31 L247.76,120.41 L248.09,124.56 L248.42,128.76 L248.74,133.01 L249.07,137.29 L249.40,141.62 L249.72,145.98 L250.05,150.38 L250.37,154.80 L250.70,159.25 L251.03,163.73 L251.35,168.22 L251.68,172.74 L252.00,177.27 L252.33,181.81 L252.66,186.36 L252.98,190.92 L253.31,195.48 L253.64,200.04 L253.96,204.60 L254.29,209.16 L254.61,213.71 L254.94,218.26 L255.27,222.79 L255.59,227.30 L255.92,231.81 L256.24,236.29 L256.57,240.75 L256.90,245.19 L257.22,249.60 L257.55,253.99 L257.87,258.35 L258.20,262.68 L258.53,266.97 L258.85,271.23 L259.18,275.46 L259.51,279.64 L259.83,283.79 L260.16,287.90 L260.48,291.96 L260.81,295.98 L261.14,299.95 L261.46,303.88 L261.79,307.76 L262.11,311.60 L262.44,315.38 L262.77,319.11 L263.09,322.80 L263.42,326.42 L263.75,330.00 L264.07,333.52 L264.40,336.99 L264.72,340.41 L265.05,343.76 L265.38,347.07 L265.70,350.31 L266.03,353.50 L266.35,356.64 L266.68,359.71 L267.01,362.73 L267.33,365.70 L267.66,368.60 L267.99,371.45 L268.31,374.24 L268.64,376.97 L268.96,379.65 L269.29,382.27 L269.62,384.83 L269.94,387.34 L270.27,389.79 L270.59,392.19 L270.92,394.53 L271.25,396.81 L271.57,399.04 L271.90,401.22 L272.23,403.35 L272.55,405.42 L272.88,407.44 L273.20,409.41 L273.53,411.32 L273.86,413.19 L274.18,415.01 L274.51,416.77 L274.83,418.49 L275.16,420.17 L275.49,421.79 L275.81,423.37 L276.14,424.91 L276.46,426.39 L276.79,427.84 L277.12,429.24 L277.44,430.60 L277.77,431.92 L278.10,433.20 L278.42,434.44 L278.75,435.64 L279.07,436.81 L279.40,437.93 L279.73,439.02 L280.05,440.07 L280.38,441.09 L280.70,442.08 L281.03,443.03 L281.36,443.95 L281.68,444.83 L282.01,445.69 L282.34,446.52 L282.66,447.31 L282.99,448.08 L283.31,448.82 L283.64,449.54 L283.97,450.23 L284.29,450.89 L284.62,451.53 L284.94,452.14 L285.27,452.73 L285.60,453.30 L285.92,453.85 L286.25,454.37 L286.58,454.88 L286.90,455.36 L287.23,455.83 L287.55,456.27 L287.88,456.70 L288.21,457.11 L288.53,457.51 L288.86,457.88 L289.18,458.25 L289.51,458.59 L289.84,458.93 L290.16,459.24 L290.49,459.55 L290.82,459.84 L291.14,460.12 L291.47,460.38 L291.79,460.64 L292.12,460.88 L292.45,461.11 L292.77,461.34 L293.10,461.55 L293.42,461.75 L293.75,461.94 L294.08,462.13 L294.40,462.30 L294.73,462.47 L295.05,462.63 L295.38,462.78 L295.71,462.92 L296.03,463.06 L296.36,463.19 L296.69,463.32 L297.01,463.44 L297.34,463.55 L297.66,463.65 L297.99,463.76 L298.32,463.85 L298.64,463.94 L298.97,464.03 L299.29,464.11 L299.62,464.19 L299.95,464.27 L300.27,464.34 L300.60,464.40 L300.93,464.47 L301.25,464.53 L301.58,464.58 L301.90,464.64 L302.23,464.69 L302.56,464.73 L302.88,464.78 L303.21,464.82 L303.53,464.86 L303.86,464.90 L304.19,464.94 L304.51,464.97 L304.84,465.00 L305.17,465.03 L305.49,465.06 L305.82,465.09 L306.14,465.11 L306.47,465.14 L306.80,465.16 L307.12,465.18 L307.45,465.20 L307.77,465.22 L308.10,465.24 L308.43,465.26 L308.75,465.27 L309.08,465.29 L309.41,465.30" stroke="#ff0000" stroke-width="1.7"/>
<path d="M16.21,465.50 L16.53,465.50 L16.86,465.50 L17.18,465.50 L17.51,465.50 L17.84,465.50 L18.16,465.50 L18.49,465.50 L18.81,465.50 L19.14,465.50 L19.47,465.50 L19.79,465.49 L20.12,465.49 L20.44,465.49 L20.77,465.49 L21.10,465.49 L21.42,465.49 L21.75,465.49 L22.08,465.49 L22.40,465.49 L22.73,465.49 L23.05,465.49 L23.38,465.49 L23.71,465.49 L24.03,465.49 L24.36,465.49 L24.68,465.49 L25.01,465.48 L25.34,465.48 L25.66,465.48 L25.99,465.48 L26.32,465.48 L26.64,465.48 L26.97,465.48 L27.29,465.48 L27.62,465.47 L27.95,465.47 L28.27,465.47 L28.60,465.47 L28.92,465.47 L29.25,465.46 L29.58,465.46 L29.90,465.46 L30.23,465.46 L30.56,465.45 L30.88,465.45 L31.21,465.45 L31.53,465.45 L31.86,465.44 L32.19,465.44 L32.51,465.44 L32.84,465.43 L33.16,465.43 L33.49,465.42 L33.82,465.42 L34.14,465.41 L34.47,465.41 L34.79,465.40 L35.12,465.40 L35.45,465.39 L35.77,465.38 L36.10,465.38 L36.43,465.37 L36.75,465.36 L37.08,465.36 L37.40,465.35 L37.73,465.34 L38.06,465.33 L38.38,465.32 L38.71,465.31 L39.03,465.30 L39.36,465.29 L39.69,465.28 L40.01,465.26 L40.34,465.25 L40.67,465.24 L40.99,465.22 L41.32,465.21 L41.64,465.20 L41.97,465.18 L42.30,465.16 L42.62,465.15 L42.95,465.13 L43.27,465.11 L43.60,465.09 L43.93,465.07 L44.25,465.05 L44.58,465.02 L44.91,465.00 L45.23,464.97 L45.56,464.95 L45.88,464.92 L46.21,464.89 L46.54,464.86 L46.86,464.83 L47.19,464.80 L47.51,464.77 L47.84,464.74 L48.17,464.70 L48.49,464.66 L48.82,464.62 L49.15,464.58 L49.47,464.54 L49.80,464.50 L50.12,464.45 L50.45,464.41 L50.78,464.36 L51.10,464.31 L51.43,464.26 L51.75,464.20 L52.08,464.15 L52.41,464.09 L52.73,464.03 L53.06,463.97 L53.38,463.91 L53.71,463.84 L54.04,463.77 L54.36,463.70 L54.69,463.63 L55.02,463.55 L55.34,463.48 L55.67,463.40 L55.99,463.32 L56.32,463.23 L56.65,463.14 L56.97,463.05 L57.30,462.96 L57.62,462.86 L57.95,462.76 L58.28,462.66 L58.60,462.56 L58.93,462.45 L59.26,462.34 L59.58,462.23 L59.91,462.11 L60.23,461.99 L60.56,461.87 L60.89,461.74 L61.21,461.61 L61.54,461.48 L61.86,461.35 L62.19,461.21 L62.52,461.07 L62.84,460.92 L63.17,460.77 L63.50,460.62 L63.82,460.46 L64.15,460.30 L64.47,460.14 L64.80,459.97 L65.13,459.80 L65.45,459.63 L65.78,459.45 L66.10,459.27 L66.43,459.09 L66.76,458.90 L67.08,458.71 L67.41,458.52 L67.74,458.32 L68.06,458.12 L68.39,457.91 L68.71,457.71 L69.04,457.50 L69.37,457.28 L69.69,457.06 L70.02,456.84 L70.34,456.62 L70.67,456.39 L71.00,456.16 L71.32,455.93 L71.65,455.69 L71.97,455.45 L72.30,455.21 L72.63,454.96 L72.95,454.71 L73.28,454.46 L73.61,454.21 L73.93,453.96 L74.26,453.70 L74.58,453.44 L74.91,453.18 L75.24,452.91 L75.56,452.65 L75.89,452.38 L76.21,452.11 L76.54,451.84 L76.87,451.57 L77.19,451.30 L77.52,451.02 L77.85,450.75 L78.17,450.47 L78.50,450.19 L78.82,449.91 L79.15,449.64 L79.48,449.36 L79.80,449.08 L80.13,448.80 L80.45,448.52 L80.78,448.25 L81.11,447.97 L81.43,447.69 L81.76,447.42 L82.09,447.15 L82.41,446.87 L82.74,446.60 L83.06,446.33 L83.39,446.06 L83.72,445.80 L84.04,445.54 L84.37,445.27 L84.69,445.02 L85.02,444.76 L85.35,444.51 L85.67,444.26 L86.00,444.01 L86.33,443.77 L86.65,443.53 L86.98,443.29 L87.30,443.06 L87.63,442.84 L87.96,442.61 L88.28,442.40 L88.61,442.18 L88.93,441.98 L89.26,441.77 L89.59,441.57 L89.91,441.38 L90.24,441.19 L90.56,441.01 L90.89,440.84 L91.22,440.67 L91.54,440.51 L91.87,440.35 L92.20,440.20 L92.52,440.05 L92.85,439.92 L93.17,439.79 L93.50,439.66 L93.83,439.55 L94.15,439.44 L94.48,439.34 L94.80,439.24 L95.13,439.15 L95.46,439.07 L95.78,439.00 L96.11,438.93 L96.44,438.88 L96.76,438.83 L97.09,438.79 L97.41,438.75 L97.74,438.72 L98.07,438.71 L98.39,438.69 L98.72,438.69 L99.04,438.69 L99.37,438.70 L99.70,438.72 L100.02,438.73 L100.35,438.76 L100.68,438.79 L101.00,438.82 L101.33,438.86 L101.65,438.90 L101.98,438.95 L102.31,439.00 L102.63,439.06 L102.96,439.13 L103.28,439.19 L103.61,439.27 L103.94,439.35 L104.26,439.43 L104.59,439.52 L104.92,439.61 L105.24,439.71 L105.57,439.81 L105.89,439.91 L106.22,440.02 L106.55,440.14 L106.87,440.26 L107.20,440.38 L107.52,440.51 L107.85,440.64 L108.18,440.77 L108.50,440.91 L108.83,441.05 L109.15,441.20 L109.48,441.35 L109.81,441.51 L110.13,441.66 L110.46,441.82 L110.79,441.99 L111.11,442.15 L111.44,442.32 L111.76,442.50 L112.09,442.67 L112.42,442.85 L112.74,443.03 L113.07,443.22 L113.39,443.41 L113.72,443.59 L114.05,443.79 L114.37,443.98 L114.70,444.18 L115.03,444.37 L115.35,444.57 L115.68,444.77 L116.00,444.98 L116.33,445.18 L116.66,445.39 L116.98,445.59 L117.31,445.80 L117.63,446.01 L117.96,446.22 L118.29,446.44 L118.61,446.65 L118.94,446.86 L119.27,447.08 L119.59,447.29 L119.92,447.50 L120.24,447.72 L120.57,447.93 L120.90,448.15 L121.22,448.36 L121.55,448.58 L121.87,448.79 L122.20,449.01 L122.53,449.22 L122.85,449.44 L123.18,449.65 L123.51,449.86 L123.83,450.07 L124.16,450.28 L124.48,450.49 L124.81,450.70 L125.14,450.91 L125.46,451.11 L125.79,451.32 L126.11,451.52 L126.44,451.72 L126.77,451.92 L127.09,452.12 L127.42,452.32 L127.74,452.51 L128.07,452.70 L128.40,452.89 L128.72,453.08 L129.05,453.27 L129.38,453.45 L129.70,453.63 L130.03,453.81 L130.35,453.99 L130.68,454.16 L131.01,454.33 L131.33,454.50 L131.66,454.67 L131.98,454.83 L132.31,454.99 L132.64,455.15 L132.96,455.30 L133.29,455.46 L133.62,455.60 L133.94,455.75 L134.27,455.89 L134.59,456.03 L134.92,456.17 L135.25,456.30 L135.57,456.43 L135.90,456.56 L136.22,456.68 L136.55,456.80 L136.88,456.92 L137.20,457.03 L137.53,457.14 L137.86,457.24 L138.18,457.35 L138.51,457.44 L138.83,457.54 L139.16,457.63 L139.49,457.72 L139.81,457.80 L140.14,457.88 L140.46,457.96 L140.79,458.03 L141.12,458.10 L141.44,458.16 L141.77,458.23 L142.10,458.28 L142.42,458.34 L142.75,458.39 L143.07,458.43 L143.40,458.48 L143.73,458.51 L144.05,458.55 L144.38,458.58 L144.70,458.61 L145.03,458.63 L145.36,458.65 L145.68,458.67 L146.01,458.68 L146.33,458.69 L146.66,458.69 L146.99,458.69 L147.31,458.69 L147.64,458.68 L147.97,458.67 L148.29,458.66 L148.62,458.64 L148.94,458.62 L149.27,458.59 L149.60,458.56 L149.92,458.53 L150.25,458.49 L150.57,458.45 L150.90,458.41 L151.23,458.36 L151.55,458.31 L151.88,458.26 L152.21,458.20 L152.53,458.14 L152.86,458.08 L153.18,458.01 L153.51,457.94 L153.84,457.86 L154.16,457.79 L154.49,457.70 L154.81,457.62 L155.14,457.53 L155.47,457.44 L155.79,457.35 L156.12,457.25 L156.45,457.16 L156.77,457.05 L157.10,456.95 L157.42,456.84 L157.75,456.73 L158.08,456.62 L158.40,456.50 L158.73,456.38 L159.05,456.26 L159.38,456.14 L159.71,456.02 L160.03,455.89 L160.36,455.76 L160.69,455.63 L161.01,455.49 L161.34,455.36 L161.66,455.22 L161.99,455.08 L162.32,454.94 L162.64,454.79 L162.97,454.65 L163.29,454.50 L163.62,454.35 L163.95,454.20 L164.27,454.05 L164.60,453.90 L164.92,453.74 L165.25,453.59 L165.58,453.43 L165.90,453.27 L166.23,453.11 L166.56,452.95 L166.88,452.79 L167.21,452.63 L167.53,452.46 L167.86,452.30 L168.19,452.13 L168.51,451.97 L168.84,451.80 L169.16,451.63 L169.49,451.47 L169.82,451.30 L170.14,451.13 L170.47,450.96 L170.80,450.78 L171.12,450.61 L171.45,450.44 L171.77,450.27 L172.10,450.09 L172.43,449.92 L172.75,449.74 L173.08,449.56 L173.40,449.39 L173.73,449.21 L174.06,449.03 L174.38,448.85 L174.71,448.66 L175.04,448.48 L175.36,448.30 L175.69,448.11 L176.01,447.92 L176.34,447.73 L176.67,447.54 L176.99,447.34 L177.32,447.15 L177.64,446.95 L177.97,446.75 L178.30,446.55 L178.62,446.34 L178.95,446.13 L179.28,445.92 L179.60,445.70 L179.93,445.48 L180.25,445.26 L180.58,445.03 L180.91,444.80 L181.23,444.56 L181.56,444.32 L181.88,444.08 L182.21,443.82 L182.54,443.57 L182.86,443.30 L183.19,443.03 L183.51,442.76 L183.84,442.47 L184.17,442.18 L184.49,441.88 L184.82,441.58 L185.15,441.26 L185.47,440.94 L185.80,440.61 L186.12,440.27 L186.45,439.92 L186.78,439.55 L187.10,439.19 L187.43,438.81 L187.75,438.42 L188.08,438.03 L188.41,437.62 L188.73,437.21 L189.06,436.79 L189.39,436.35 L189.71,435.90 L190.04,435.45 L190.36,434.98 L190.69,434.50 L191.02,434.00 L191.34,433.49 L191.67,432.97 L191.99,432.43 L192.32,431.88 L192.65,431.31 L192.97,430.73 L193.30,430.13 L193.63,429.52 L193.95,428.89 L194.28,428.23 L194.60,427.57 L194.93,426.88 L195.26,426.17 L195.58,425.45 L195.91,424.70 L196.23,423.94 L196.56,423.15 L196.89,422.34 L197.21,421.51 L197.54,420.66 L197.87,419.79 L198.19,418.89 L198.52,417.97 L198.84,417.03 L199.17,416.06 L199.50,415.07 L199.82,414.06 L200.15,413.02 L200.47,411.96 L200.80,410.87 L201.13,409.75 L201.45,408.62 L201.78,407.45 L202.10,406.26 L202.43,405.05 L202.76,403.80 L203.08,402.54 L203.41,401.25 L203.74,399.93 L204.06,398.58 L204.39,397.21 L204.71,395.82 L205.04,394.40 L205.37,392.95 L205.69,391.48 L206.02,389.99 L206.34,388.47 L206.67,386.92 L207.00,385.36 L207.32,383.76 L207.65,382.15 L207.98,380.51 L208.30,378.86 L208.63,377.18 L208.95,375.47 L209.28,373.75 L209.61,372.01 L209.93,370.25 L210.26,368.47 L210.58,366.67 L210.91,364.86 L211.24,363.03 L211.56,361.18 L211.89,359.32 L212.22,357.45 L212.54,355.57 L212.87,353.67 L213.19,351.76 L213.52,349.84 L213.85,347.91 L214.17,345.98 L214.50,344.04 L214.82,342.09 L215.15,340.14 L215.48,338.19 L215.80,336.23 L216.13,334.28 L216.46,332.32 L216.78,330.37 L217.11,328.42 L217.43,326.48 L217.76,324.54 L218.09,322.61 L218.41,320.68 L218.74,318.77 L219.06,316.87 L219.39,314.98 L219.72,313.11 L220.04,311.25 L220.37,309.41 L220.69,307.58 L221.02,305.78 L221.35,304.00 L221.67,302.24 L222.00,300.50 L222.33,298.79 L222.65,297.11 L222.98,295.45 L223.30,293.83 L223.63,292.23 L223.96,290.67 L224.28,289.14 L224.61,287.65 L224.93,286.19 L225.26,284.77 L225.59,283.38 L225.91,282.04 L226.24,280.74 L226.57,279.48 L226.89,278.26 L227.22,277.09 L227.54,275.96 L227.87,274.88 L228.20,273.85 L228.52,272.87 L228.85,271.93 L229.17,271.04 L229.50,270.21 L229.83,269.43 L230.15,268.69 L230.48,268.02 L230.81,267.39 L231.13,266.82 L231.46,266.31 L231.78,265.85 L232.11,265.45 L232.44,265.10 L232.76,264.81 L233.09,264.57 L233.41,264.40 L233.74,264.28 L234.07,264.21 L234.39,264.21 L234.72,264.26 L235.05,264.37 L235.37,264.54 L235.70,264.77 L236.02,265.05 L236.35,265.39 L236.68,265.79 L237.00,266.24 L237.33,266.75 L237.65,267.32 L237.98,267.94 L238.31,268.61 L238.63,269.34 L238.96,270.13 L239.28,270.97 L239.61,271.85 L239.94,272.80 L240.26,273.79 L240.59,274.83 L240.92,275.92 L241.24,277.06 L241.57,278.24 L241.89,279.48 L242.22,280.75 L242.55,282.08 L242.87,283.44 L243.20,284.85 L243.52,286.30 L243.85,287.79 L244.18,289.31 L244.50,290.88 L244.83,292.48 L245.16,294.12 L245.48,295.79 L245.81,297.49 L246.13,299.22 L246.46,300.98 L246.79,302.78 L247.11,304.59 L247.44,306.44 L247.76,308.31 L248.09,310.20 L248.42,312.11 L248.74,314.05 L249.07,316.00 L249.40,317.97 L249.72,319.96 L250.05,321.96 L250.37,323.98 L250.70,326.01 L251.03,328.04 L251.35,330.09 L251.68,332.15 L252.00,334.21 L252.33,336.28 L252.66,338.35 L252.98,340.43 L253.31,342.51 L253.64,344.59 L253.96,346.67 L254.29,348.74 L254.61,350.82 L254.94,352.88 L255.27,354.95 L255.59,357.01 L255.92,359.06 L256.24,361.10 L256.57,363.13 L256.90,365.15 L257.22,367.16 L257.55,369.16 L257.87,371.15 L258.20,373.12 L258.53,375.08 L258.85,377.02 L259.18,378.94 L259.51,380.85 L259.83,382.74 L260.16,384.61 L260.48,386.46 L260.81,388.29 L261.14,390.10 L261.46,391.89 L261.79,393.66 L262.11,395.40 L262.44,397.12 L262.77,398.82 L263.09,400.50 L263.42,402.15 L263.75,403.78 L264.07,405.39 L264.40,406.97 L264.72,408.52 L265.05,410.05 L265.38,411.56 L265.70,413.04 L266.03,414.49 L266.35,415.92 L266.68,417.32 L267.01,418.69 L267.33,420.04 L267.66,421.37 L267.99,422.66 L268.31,423.93 L268.64,425.18 L268.96,426.40 L269.29,427.59 L269.62,428.76 L269.94,429.90 L270.27,431.02 L270.59,432.11 L270.92,433.17 L271.25,434.22 L271.57,435.23 L271.90,436.22 L272.23,437.19 L272.55,438.13 L272.88,439.05 L273.20,439.95 L273.53,440.82 L273.86,441.67 L274.18,442.50 L274.51,443.31 L274.83,444.09 L275.16,444.85 L275.49,445.59 L275.81,446.31 L276.14,447.01 L276.46,447.69 L276.79,448.35 L277.12,448.99 L277.44,449.61 L277.77,450.21 L278.10,450.79 L278.42,451.35 L278.75,451.90 L279.07,452.43 L279.40,452.94 L279.73,453.44 L280.05,453.92 L280.38,454.38 L280.70,454.83 L281.03,455.26 L281.36,455.68 L281.68,456.09 L282.01,456.48 L282.34,456.85 L282.66,457.22 L282.99,457.57 L283.31,457.90 L283.64,458.23 L283.97,458.54 L284.29,458.84 L284.62,459.14 L284.94,459.42 L285.27,459.68 L285.60,459.94 L285.92,460.19 L286.25,460.43 L286.58,460.66 L286.90,460.88 L287.23,461.09 L287.55,461.30 L287.88,461.49 L288.21,461.68 L288.53,461.86 L288.86,462.03 L289.18,462.20 L289.51,462.35 L289.84,462.51 L290.16,462.65 L290.49,462.79 L290.82,462.92 L291.14,463.05 L291.47,463.17 L291.79,463.29 L292.12,463.40 L292.45,463.50 L292.77,463.60 L293.10,463.70 L293.42,463.79 L293.75,463.88 L294.08,463.96 L294.40,464.04 L294.73,464.12 L295.05,464.19 L295.38,464.26 L295.71,464.33 L296.03,464.39 L296.36,464.45 L296.69,464.51 L297.01,464.56 L297.34,464.61 L297.66,464.66 L297.99,464.71 L298.32,464.75 L298.64,464.79 L298.97,464.83 L299.29,464.87 L299.62,464.90 L299.95,464.94 L300.27,464.97 L300.60,465.00 L300.93,465.03 L301.25,465.06 L301.58,465.08 L301.90,465.11 L302.23,465.13 L302.56,465.15 L302.88,465.17 L303.21,465.19 L303.53,465.21 L303.86,465.23 L304.19,465.24 L304.51,465.26 L304.84,465.27 L305.17,465.29 L305.49,465.30 L305.82,465.31 L306.14,465.32 L306.47,465.34 L306.80,465.35 L307.12,465.36 L307.45,465.36 L307.77,465.37 L308.10,465.38 L308.43,465.39 L308.75,465.40 L309.08,465.40 L309.41,465.41" stroke="#008000" stroke-width="1.7"/>
<path d="M16.21,465.50 L16.53,465.50 L16.86,465.50 L17.18,465.50 L17.51,465.50 L17.84,465.50 L18.16,465.50 L18.49,465.50 L18.81,465.50 L19.14,465.50 L19.47,465.50 L19.79,465.49 L20.12,465.49 L20.44,465.49 L20.77,465.49 L21.10,465.49 L21.42,465.49 L21.75,465.49 L22.08,465.49 L22.40,465.49 L22.73,465.49 L23.05,465.49 L23.38,465.49 L23.71,465.49 L24.03,465.49 L24.36,465.49 L24.68,465.49 L25.01,465.48 L25.34,465.48 L25.66,465.48 L25.99,465.48 L26.32,465.48 L26.64,465.48 L26.97,465.48 L27.29,465.48 L27.62,465.47 L27.95,465.47 L28.27,465.47 L28.60,465.47 L28.92,465.47 L29.25,465.46 L29.58,465.46 L29.90,465.46 L30.23,465.46 L30.56,465.45 L30.88,465.45 L31.21,465.45 L31.53,465.45 L31.86,465.44 L32.19,465.44 L32.51,465.44 L32.84,465.43 L33.16,465.43 L33.49,465.42 L33.82,465.42 L34.14,465.41 L34.47,465.41 L34.79,465.40 L35.12,465.40 L35.45,465.39 L35.77,465.38 L36.10,465.38 L36.43,465.37 L36.75,465.36 L37.08,465.36 L37.40,465.35 L37.73,465.34 L38.06,465.33 L38.38,465.32 L38.71,465.31 L39.03,465.30 L39.36,465.29 L39.69,465.28 L40.01,465.26 L40.34,465.25 L40.67,465.24 L40.99,465.22 L41.32,465.21 L41.64,465.20 L41.97,465.18 L42.30,465.16 L42.62,465.15 L42.95,465.13 L43.27,465.11 L43.60,465.09 L43.93,465.07 L44.25,465.05 L44.58,465.02 L44.91,465.00 L45.23,464.97 L45.56,464.95 L45.88,464.92 L46.21,464.89 L46.54,464.86 L46.86,464.83 L47.19,464.80 L47.51,464.77 L47.84,464.74 L48.17,464.70 L48.49,464.66 L48.82,464.62 L49.15,464.58 L49.47,464.54 L49.80,464.50 L50.12,464.45 L50.45,464.41 L50.78,464.36 L51.10,464.31 L51.43,464.26 L51.75,464.20 L52.08,464.15 L52.41,464.09 L52.73,464.03 L53.06,463.97 L53.38,463.91 L53.71,463.84 L54.04,463.77 L54.36,463.70 L54.69,463.63 L55.02,463.55 L55.34,463.48 L55.67,463.40 L55.99,463.32 L56.32,463.23 L56.65,463.14 L56.97,463.05 L57.30,462.96 L57.62,462.86 L57.95,462.76 L58.28,462.66 L58.60,462.56 L58.93,462.45 L59.26,462.34 L59.58,462.23 L59.91,462.11 L60.23,461.99 L60.56,461.87 L60.89,461.74 L61.21,461.61 L61.54,461.48 L61.86,461.35 L62.19,461.21 L62.52,461.07 L62.84,460.92 L63.17,460.77 L63.50,460.62 L63.82,460.46 L64.15,460.30 L64.47,460.14 L64.80,459.97 L65.13,459.80 L65.45,459.63 L65.78,459.45 L66.10,459.27 L66.43,459.09 L66.76,458.90 L67.08,458.71 L67.41,458.52 L67.74,458.32 L68.06,458.12 L68.39,457.91 L68.71,457.71 L69.04,457.50 L69.37,457.28 L69.69,457.06 L70.02,456.84 L70.34,456.62 L70.67,456.39 L71.00,456.16 L71.32,455.93 L71.65,455.69 L71.97,455.45 L72.30,455.21 L72.63,454.96 L72.95,454.71 L73.28,454.46 L73.61,454.21 L73.93,453.96 L74.26,453.70 L74.58,453.44 L74.91,453.18 L75.24,452.91 L75.56,452.65 L75.89,452.38 L76.21,452.11 L76.54,451.84 L76.87,451.57 L77.19,451.30 L77.52,451.02 L77.85,450.75 L78.17,450.47 L78.50,450.19 L78.82,449.91 L79.15,449.64 L79.48,449.36 L79.80,449.08 L80.13,448.80 L80.45,448.52 L80.78,448.25 L81.11,447.97 L81.43,447.69 L81.76,447.42 L82.09,447.15 L82.41,446.87 L82.74,446.60 L83.06,446.33 L83.39,446.06 L83.72,445.80 L84.04,445.54 L84.37,445.27 L84.69,445.02 L85.02,444.76 L85.35,444.51 L85.67,444.26 L86.00,444.01 L86.33,443.77 L86.65,443.53 L86.98,443.29 L87.30,443.06 L87.63,442.84 L87.96,442.61 L88.28,442.40 L88.61,442.18 L88.93,441.98 L89.26,441.77 L89.59,441.57 L89.91,441.38 L90.24,441.19 L90.56,441.01 L90.89,440.84 L91.22,440.67 L91.54,440.51 L91.87,440.35 L92.20,440.20 L92.52,440.05 L92.85,439.92 L93.17,439.79 L93.50,439.66 L93.83,439.55 L94.15,439.44 L94.48,439.34 L94.80,439.24 L95.13,439.15 L95.46,439.07 L95.78,439.00 L96.11,438.93 L96.44,438.88 L96.76,438.83 L97.09,438.79 L97.41,438.75 L97.74,438.72 L98.07,438.71 L98.39,438.69 L98.72,438.69 L99.04,438.69 L99.37,438.70 L99.70,438.72 L100.02,438.73 L100.35,438.76 L100.68,438.79 L101.00,438.82 L101.33,438.86 L101.65,438.90 L101.98,438.95 L102.31,439.00 L102.63,439.06 L102.96,439.13 L103.28,439.19 L103.61,439.27 L103.94,439.35 L104.26,439.43 L104.59,439.52 L104.92,439.61 L105.24,439.71 L105.57,439.81 L105.89,439.91 L106.22,440.02 L106.55,440.14 L106.87,440.26 L107.20,440.38 L107.52,440.51 L107.85,440.64 L108.18,440.77 L108.50,440.91 L108.83,441.05 L109.15,441.20 L109.48,441.35 L109.81,441.51 L110.13,441.66 L110.46,441.82 L110.79,441.99 L111.11,442.15 L111.44,442.32 L111.76,442.50 L112.09,442.67 L112.42,442.85 L112.74,443.03 L113.07,443.22 L113.39,443.41 L113.72,443.59 L114.05,443.79 L114.37,443.98 L114.70,444.18 L115.03,444.37 L115.35,444.57 L115.68,444.77 L116.00,444.98 L116.33,445.18 L116.66,445.39 L116.98,445.59 L117.31,445.80 L117.63,446.01 L117.96,446.22 L118.29,446.44 L118.61,446.65 L118.94,446.86 L119.27,447.08 L119.59,447.29 L119.92,447.50 L120.24,447.72 L120.57,447.93 L120.90,448.15 L121.22,448.36 L121.55,448.58 L121.87,448.79 L122.20,449.01 L122.53,449.22 L122.85,449.44 L123.18,449.65 L123.51,449.86 L123.83,450.07 L124.16,450.28 L124.48,450.49 L124.81,450.70 L125.14,450.91 L125.46,451.11 L125.79,451.32 L126.11,451.52 L126.44,451.72 L126.77,451.92 L127.09,452.12 L127.42,452.32 L127.74,452.51 L128.07,452.70 L128.40,452.89 L128.72,453.08 L129.05,453.27 L129.38,453.45 L129.70,453.63 L130.03,453.81 L130.35,453.99 L130.68,454.16 L131.01,454.33 L131.33,454.50 L131.66,454.67 L131.98,454.83 L132.31,454.99 L132.64,455.15 L132.96,455.31 L133.29,455.46 L133.62,455.61 L133.94,455.75 L134.27,455.89 L134.59,456.03 L134.92,456.17 L135.25,456.30 L135.57,456.43 L135.90,456.56 L136.22,456.68 L136.55,456.80 L136.88,456.92 L137.20,457.03 L137.53,457.14 L137.86,457.25 L138.18,457.35 L138.51,457.45 L138.83,457.54 L139.16,457.63 L139.49,457.72 L139.81,457.81 L140.14,457.89 L140.46,457.96 L140.79,458.04 L141.12,458.11 L141.44,458.17 L141.77,458.24 L142.10,458.29 L142.42,458.35 L142.75,458.40 L143.07,458.45 L143.40,458.49 L143.73,458.53 L144.05,458.57 L144.38,458.60 L144.70,458.63 L145.03,458.65 L145.36,458.67 L145.68,458.69 L146.01,458.70 L146.33,458.71 L146.66,458.72 L146.99,458.72 L147.31,458.72 L147.64,458.72 L147.97,458.71 L148.29,458.69 L148.62,458.68 L148.94,458.66 L149.27,458.64 L149.60,458.61 L149.92,458.58 L150.25,458.55 L150.57,458.51 L150.90,458.47 L151.23,458.43 L151.55,458.38 L151.88,458.33 L152.21,458.28 L152.53,458.22 L152.86,458.16 L153.18,458.09 L153.51,458.03 L153.84,457.96 L154.16,457.89 L154.49,457.81 L154.81,457.73 L155.14,457.65 L155.47,457.57 L155.79,457.48 L156.12,457.39 L156.45,457.30 L156.77,457.20 L157.10,457.10 L157.42,457.00 L157.75,456.90 L158.08,456.79 L158.40,456.68 L158.73,456.57 L159.05,456.46 L159.38,456.35 L159.71,456.23 L160.03,456.11 L160.36,455.99 L160.69,455.87 L161.01,455.74 L161.34,455.61 L161.66,455.49 L161.99,455.36 L162.32,455.22 L162.64,455.09 L162.97,454.96 L163.29,454.82 L163.62,454.68 L163.95,454.54 L164.27,454.40 L164.60,454.26 L164.92,454.12 L165.25,453.98 L165.58,453.83 L165.90,453.69 L166.23,453.54 L166.56,453.40 L166.88,453.25 L167.21,453.10 L167.53,452.95 L167.86,452.80 L168.19,452.65 L168.51,452.50 L168.84,452.35 L169.16,452.20 L169.49,452.05 L169.82,451.90 L170.14,451.75 L170.47,451.60 L170.80,451.44 L171.12,451.29 L171.45,451.14 L171.77,450.99 L172.10,450.84 L172.43,450.68 L172.75,450.53 L173.08,450.38 L173.40,450.23 L173.73,450.07 L174.06,449.92 L174.38,449.77 L174.71,449.62 L175.04,449.46 L175.36,449.31 L175.69,449.16 L176.01,449.00 L176.34,448.85 L176.67,448.69 L176.99,448.54 L177.32,448.38 L177.64,448.22 L177.97,448.07 L178.30,447.91 L178.62,447.75 L178.95,447.59 L179.28,447.43 L179.60,447.27 L179.93,447.10 L180.25,446.94 L180.58,446.77 L180.91,446.60 L181.23,446.43 L181.56,446.26 L181.88,446.08 L182.21,445.91 L182.54,445.73 L182.86,445.54 L183.19,445.36 L183.51,445.17 L183.84,444.98 L184.17,444.78 L184.49,444.58 L184.82,444.38 L185.15,444.17 L185.47,443.96 L185.80,443.74 L186.12,443.52 L186.45,443.29 L186.78,443.06 L187.10,442.83 L187.43,442.59 L187.75,442.35 L188.08,442.10 L188.41,441.86 L188.73,441.60 L189.06,441.35 L189.39,441.08 L189.71,440.82 L190.04,440.54 L190.36,440.26 L190.69,439.98 L191.02,439.69 L191.34,439.39 L191.67,439.09 L191.99,438.77 L192.32,438.45 L192.65,438.13 L192.97,437.79 L193.30,437.45 L193.63,437.09 L193.95,436.73 L194.28,436.36 L194.60,435.97 L194.93,435.58 L195.26,435.17 L195.58,434.76 L195.91,434.33 L196.23,433.89 L196.56,433.44 L196.89,432.98 L197.21,432.50 L197.54,432.01 L197.87,431.51 L198.19,430.99 L198.52,430.46 L198.84,429.92 L199.17,429.36 L199.50,428.79 L199.82,428.20 L200.15,427.60 L200.47,426.98 L200.80,426.34 L201.13,425.69 L201.45,425.03 L201.78,424.35 L202.10,423.65 L202.43,422.93 L202.76,422.20 L203.08,421.46 L203.41,420.69 L203.74,419.91 L204.06,419.12 L204.39,418.30 L204.71,417.47 L205.04,416.63 L205.37,415.77 L205.69,414.89 L206.02,413.99 L206.34,413.08 L206.67,412.16 L207.00,411.21 L207.32,410.25 L207.65,409.28 L207.98,408.29 L208.30,407.29 L208.63,406.27 L208.95,405.24 L209.28,404.19 L209.61,403.13 L209.93,402.06 L210.26,400.98 L210.58,399.88 L210.91,398.77 L211.24,397.65 L211.56,396.52 L211.89,395.38 L212.22,394.23 L212.54,393.07 L212.87,391.90 L213.19,390.73 L213.52,389.54 L213.85,388.35 L214.17,387.16 L214.50,385.96 L214.82,384.76 L215.15,383.55 L215.48,382.34 L215.80,381.12 L216.13,379.91 L216.46,378.69 L216.78,377.48 L217.11,376.27 L217.43,375.05 L217.76,373.85 L218.09,372.64 L218.41,371.44 L218.74,370.25 L219.06,369.06 L219.39,367.88 L219.72,366.71 L220.04,365.54 L220.37,364.39 L220.69,363.25 L221.02,362.12 L221.35,361.00 L221.67,359.89 L222.00,358.81 L222.33,357.73 L222.65,356.67 L222.98,355.63 L223.30,354.61 L223.63,353.61 L223.96,352.63 L224.28,351.66 L224.61,350.72 L224.93,349.81 L225.26,348.91 L225.59,348.04 L225.91,347.19 L226.24,346.37 L226.57,345.58 L226.89,344.81 L227.22,344.08 L227.54,343.37 L227.87,342.69 L228.20,342.04 L228.52,341.41 L228.85,340.83 L229.17,340.27 L229.50,339.74 L229.83,339.25 L230.15,338.79 L230.48,338.37 L230.81,337.97 L231.13,337.62 L231.46,337.29 L231.78,337.01 L232.11,336.76 L232.44,336.54 L232.76,336.36 L233.09,336.22 L233.41,336.11 L233.74,336.04 L234.07,336.01 L234.39,336.01 L234.72,336.05 L235.05,336.13 L235.37,336.24 L235.70,336.39 L236.02,336.58 L236.35,336.80 L236.68,337.06 L237.00,337.35 L237.33,337.69 L237.65,338.05 L237.98,338.45 L238.31,338.89 L238.63,339.36 L238.96,339.87 L239.28,340.41 L239.61,340.99 L239.94,341.59 L240.26,342.23 L240.59,342.90 L240.92,343.61 L241.24,344.34 L241.57,345.11 L241.89,345.90 L242.22,346.72 L242.55,347.57 L242.87,348.45 L243.20,349.36 L243.52,350.29 L243.85,351.25 L244.18,352.23 L244.50,353.24 L244.83,354.27 L245.16,355.32 L245.48,356.40 L245.81,357.49 L246.13,358.61 L246.46,359.74 L246.79,360.89 L247.11,362.06 L247.44,363.25 L247.76,364.45 L248.09,365.67 L248.42,366.90 L248.74,368.14 L249.07,369.40 L249.40,370.67 L249.72,371.94 L250.05,373.23 L250.37,374.53 L250.70,375.83 L251.03,377.14 L251.35,378.46 L251.68,379.78 L252.00,381.11 L252.33,382.44 L252.66,383.77 L252.98,385.10 L253.31,386.44 L253.64,387.78 L253.96,389.11 L254.29,390.45 L254.61,391.78 L254.94,393.11 L255.27,394.44 L255.59,395.76 L255.92,397.08 L256.24,398.39 L256.57,399.70 L256.90,401.00 L257.22,402.29 L257.55,403.57 L257.87,404.85 L258.20,406.12 L258.53,407.38 L258.85,408.62 L259.18,409.86 L259.51,411.09 L259.83,412.30 L260.16,413.50 L260.48,414.69 L260.81,415.87 L261.14,417.03 L261.46,418.18 L261.79,419.32 L262.11,420.44 L262.44,421.55 L262.77,422.64 L263.09,423.72 L263.42,424.78 L263.75,425.83 L264.07,426.86 L264.40,427.88 L264.72,428.88 L265.05,429.86 L265.38,430.83 L265.70,431.78 L266.03,432.71 L266.35,433.63 L266.68,434.53 L267.01,435.41 L267.33,436.28 L267.66,437.13 L267.99,437.96 L268.31,438.78 L268.64,439.58 L268.96,440.37 L269.29,441.13 L269.62,441.88 L269.94,442.62 L270.27,443.33 L270.59,444.04 L270.92,444.72 L271.25,445.39 L271.57,446.04 L271.90,446.68 L272.23,447.30 L272.55,447.91 L272.88,448.50 L273.20,449.08 L273.53,449.64 L273.86,450.18 L274.18,450.72 L274.51,451.23 L274.83,451.74 L275.16,452.23 L275.49,452.70 L275.81,453.17 L276.14,453.62 L276.46,454.05 L276.79,454.47 L277.12,454.89 L277.44,455.28 L277.77,455.67 L278.10,456.04 L278.42,456.41 L278.75,456.76 L279.07,457.10 L279.40,457.43 L279.73,457.75 L280.05,458.06 L280.38,458.35 L280.70,458.64 L281.03,458.92 L281.36,459.19 L281.68,459.45 L282.01,459.70 L282.34,459.94 L282.66,460.18 L282.99,460.40 L283.31,460.62 L283.64,460.83 L283.97,461.03 L284.29,461.22 L284.62,461.41 L284.94,461.59 L285.27,461.76 L285.60,461.93 L285.92,462.09 L286.25,462.24 L286.58,462.39 L286.90,462.53 L287.23,462.67 L287.55,462.80 L287.88,462.92 L288.21,463.04 L288.53,463.16 L288.86,463.27 L289.18,463.38 L289.51,463.48 L289.84,463.58 L290.16,463.67 L290.49,463.76 L290.82,463.84 L291.14,463.92 L291.47,464.00 L291.79,464.08 L292.12,464.15 L292.45,464.22 L292.77,464.28 L293.10,464.34 L293.42,464.40 L293.75,464.46 L294.08,464.51 L294.40,464.56 L294.73,464.61 L295.05,464.66 L295.38,464.70 L295.71,464.75 L296.03,464.79 L296.36,464.82 L296.69,464.86 L297.01,464.90 L297.34,464.93 L297.66,464.96 L297.99,464.99 L298.32,465.02 L298.64,465.04 L298.97,465.07 L299.29,465.09 L299.62,465.12 L299.95,465.14 L300.27,465.16 L300.60,465.18 L300.93,465.20 L301.25,465.21 L301.58,465.23 L301.90,465.25 L302.23,465.26 L302.56,465.28 L302.88,465.29 L303.21,465.30 L303.53,465.31 L303.86,465.32 L304.19,465.34 L304.51,465.35 L304.84,465.35 L305.17,465.36 L305.49,465.37 L305.82,465.38 L306.14,465.39 L306.47,465.39 L306.80,465.40 L307.12,465.41 L307.45,465.41 L307.77,465.42 L308.10,465.42 L308.43,465.43 L308.75,465.43 L309.08,465.44 L309.41,465.44" stroke="#000000" stroke-width="1.85"/>
</g>
<text transform="translate(27.20,484.9) scale(1,1.05)" text-anchor="middle" font-size="15.35">536</text>
<text transform="translate(100.80,484.9) scale(1,1.05)" text-anchor="middle" font-size="15.35">534</text>
<text transform="translate(174.40,484.9) scale(1,1.05)" text-anchor="middle" font-size="15.35">532</text>
<text transform="translate(248.00,484.9) scale(1,1.05)" text-anchor="middle" font-size="15.35">530</text>
<text transform="translate(161.53,501.7) scale(1,1.1)" text-anchor="middle" font-size="15.55">Binding energy (eV)</text>
<text transform="translate(11.40,236.8) rotate(-90)" text-anchor="middle" font-size="15.72">Intensity (arb. units)</text>
<text x="31.60" y="38.3" font-size="27.8">(a)</text><clipPath id="cb"><rect x="369.3" y="0.75" width="283.05" height="465.0"/></clipPath>
<rect x="369.3" y="0.75" width="283.05" height="464.85" fill="none" stroke="#000" stroke-width="2"/>
<path d="M376.25,465.6v-8.6M376.25,0.75v8.6M383.61,465.6v-4.4M383.61,0.75v4.4M390.97,465.6v-4.4M390.97,0.75v4.4M398.33,465.6v-4.4M398.33,0.75v4.4M405.69,465.6v-4.4M405.69,0.75v4.4M413.05,465.6v-4.4M413.05,0.75v4.4M420.41,465.6v-4.4M420.41,0.75v4.4M427.77,465.6v-4.4M427.77,0.75v4.4M435.13,465.6v-4.4M435.13,0.75v4.4M442.49,465.6v-4.4M442.49,0.75v4.4M449.85,465.6v-8.6M449.85,0.75v8.6M457.21,465.6v-4.4M457.21,0.75v4.4M464.57,465.6v-4.4M464.57,0.75v4.4M471.93,465.6v-4.4M471.93,0.75v4.4M479.29,465.6v-4.4M479.29,0.75v4.4M486.65,465.6v-4.4M486.65,0.75v4.4M494.01,465.6v-4.4M494.01,0.75v4.4M501.37,465.6v-4.4M501.37,0.75v4.4M508.73,465.6v-4.4M508.73,0.75v4.4M516.09,465.6v-4.4M516.09,0.75v4.4M523.45,465.6v-8.6M523.45,0.75v8.6M530.81,465.6v-4.4M530.81,0.75v4.4M538.17,465.6v-4.4M538.17,0.75v4.4M545.53,465.6v-4.4M545.53,0.75v4.4M552.89,465.6v-4.4M552.89,0.75v4.4M560.25,465.6v-4.4M560.25,0.75v4.4M567.61,465.6v-4.4M567.61,0.75v4.4M574.97,465.6v-4.4M574.97,0.75v4.4M582.33,465.6v-4.4M582.33,0.75v4.4M589.69,465.6v-4.4M589.69,0.75v4.4M597.05,465.6v-8.6M597.05,0.75v8.6M604.41,465.6v-4.4M604.41,0.75v4.4M611.77,465.6v-4.4M611.77,0.75v4.4M619.13,465.6v-4.4M619.13,0.75v4.4M626.49,465.6v-4.4M626.49,0.75v4.4M633.85,465.6v-4.4M633.85,0.75v4.4M641.21,465.6v-4.4M641.21,0.75v4.4M648.57,465.6v-4.4M648.57,0.75v4.4" stroke="#000" stroke-width="1" fill="none"/>
<path d="M369.3,398.67h4.5M652.35,398.67h-4.5M369.3,331.74h4.5M652.35,331.74h-4.5M369.3,264.81h4.5M652.35,264.81h-4.5M369.3,197.88h4.5M652.35,197.88h-4.5M369.3,130.95h4.5M652.35,130.95h-4.5M369.3,64.02h4.5M652.35,64.02h-4.5" stroke="#000" stroke-width="1" fill="none"/>
<g clip-path="url(#cb)" fill="none" stroke="#6666ff" stroke-width="1.5"><circle cx="367.34" cy="465.03" r="2.0"/><circle cx="368.20" cy="465.55" r="2.0"/><circle cx="369.06" cy="465.60" r="2.0"/><circle cx="369.92" cy="465.80" r="2.0"/><circle cx="370.78" cy="465.48" r="2.0"/><circle cx="371.64" cy="465.55" r="2.0"/><circle cx="372.51" cy="465.59" r="2.0"/><circle cx="373.37" cy="465.36" r="2.0"/><circle cx="374.23" cy="465.31" r="2.0"/><circle cx="375.09" cy="465.65" r="2.0"/><circle cx="375.95" cy="465.57" r="2.0"/><circle cx="376.81" cy="465.43" r="2.0"/><circle cx="377.67" cy="465.10" r="2.0"/><circle cx="378.53" cy="465.09" r="2.0"/><circle cx="379.40" cy="465.51" r="2.0"/><circle cx="380.26" cy="465.42" r="2.0"/><circle cx="381.12" cy="464.91" r="2.0"/><circle cx="381.98" cy="464.65" r="2.0"/><circle cx="382.84" cy="465.00" r="2.0"/><circle cx="383.70" cy="465.10" r="2.0"/><circle cx="384.56" cy="464.59" r="2.0"/><circle cx="385.42" cy="464.87" r="2.0"/><circle cx="386.29" cy="464.53" r="2.0"/><circle cx="387.15" cy="464.24" r="2.0"/><circle cx="388.01" cy="464.39" r="2.0"/><circle cx="388.87" cy="464.43" r="2.0"/><circle cx="389.73" cy="464.16" r="2.0"/><circle cx="390.59" cy="464.40" r="2.0"/><circle cx="391.45" cy="464.16" r="2.0"/><circle cx="392.31" cy="464.14" r="2.0"/><circle cx="393.18" cy="463.92" r="2.0"/><circle cx="394.04" cy="463.86" r="2.0"/><circle cx="394.90" cy="463.65" r="2.0"/><circle cx="395.76" cy="463.55" r="2.0"/><circle cx="396.62" cy="463.29" r="2.0"/><circle cx="397.48" cy="463.15" r="2.0"/><circle cx="398.34" cy="462.92" r="2.0"/><circle cx="399.20" cy="462.42" r="2.0"/><circle cx="400.07" cy="462.91" r="2.0"/><circle cx="400.93" cy="461.95" r="2.0"/><circle cx="401.79" cy="462.06" r="2.0"/><circle cx="402.65" cy="462.02" r="2.0"/><circle cx="403.51" cy="461.46" r="2.0"/><circle cx="404.37" cy="461.08" r="2.0"/><circle cx="405.23" cy="460.51" r="2.0"/><circle cx="406.09" cy="460.70" r="2.0"/><circle cx="406.96" cy="460.03" r="2.0"/><circle cx="407.82" cy="459.70" r="2.0"/><circle cx="408.68" cy="459.78" r="2.0"/><circle cx="409.54" cy="459.27" r="2.0"/><circle cx="410.40" cy="458.42" r="2.0"/><circle cx="411.26" cy="457.98" r="2.0"/><circle cx="412.12" cy="457.44" r="2.0"/><circle cx="412.99" cy="457.13" r="2.0"/><circle cx="413.85" cy="456.70" r="2.0"/><circle cx="414.71" cy="456.29" r="2.0"/><circle cx="415.57" cy="455.53" r="2.0"/><circle cx="416.43" cy="455.53" r="2.0"/><circle cx="417.29" cy="454.82" r="2.0"/><circle cx="418.15" cy="454.12" r="2.0"/><circle cx="419.01" cy="454.02" r="2.0"/><circle cx="419.88" cy="452.70" r="2.0"/><circle cx="420.74" cy="452.63" r="2.0"/><circle cx="421.60" cy="451.85" r="2.0"/><circle cx="422.46" cy="450.71" r="2.0"/><circle cx="423.32" cy="450.88" r="2.0"/><circle cx="424.18" cy="450.26" r="2.0"/><circle cx="425.04" cy="449.22" r="2.0"/><circle cx="425.90" cy="449.37" r="2.0"/><circle cx="426.77" cy="448.71" r="2.0"/><circle cx="427.63" cy="447.97" r="2.0"/><circle cx="428.49" cy="447.48" r="2.0"/><circle cx="429.35" cy="446.93" r="2.0"/><circle cx="430.21" cy="446.44" r="2.0"/><circle cx="431.07" cy="445.64" r="2.0"/><circle cx="431.93" cy="445.13" r="2.0"/><circle cx="432.79" cy="444.61" r="2.0"/><circle cx="433.66" cy="444.27" r="2.0"/><circle cx="434.52" cy="443.61" r="2.0"/><circle cx="435.38" cy="443.24" r="2.0"/><circle cx="436.24" cy="441.92" r="2.0"/><circle cx="437.10" cy="441.83" r="2.0"/><circle cx="437.96" cy="440.44" r="2.0"/><circle cx="438.82" cy="439.56" r="2.0"/><circle cx="439.68" cy="439.80" r="2.0"/><circle cx="440.55" cy="439.29" r="2.0"/><circle cx="441.41" cy="438.83" r="2.0"/><circle cx="442.27" cy="438.16" r="2.0"/><circle cx="443.13" cy="438.32" r="2.0"/><circle cx="443.99" cy="437.99" r="2.0"/><circle cx="444.85" cy="438.09" r="2.0"/><circle cx="445.71" cy="438.12" r="2.0"/><circle cx="446.57" cy="437.90" r="2.0"/><circle cx="447.44" cy="438.69" r="2.0"/><circle cx="448.30" cy="438.68" r="2.0"/><circle cx="449.16" cy="438.89" r="2.0"/><circle cx="450.02" cy="438.99" r="2.0"/><circle cx="450.88" cy="439.77" r="2.0"/><circle cx="451.74" cy="439.44" r="2.0"/><circle cx="452.60" cy="439.89" r="2.0"/><circle cx="453.47" cy="440.08" r="2.0"/><circle cx="454.33" cy="440.60" r="2.0"/><circle cx="455.19" cy="441.36" r="2.0"/><circle cx="456.05" cy="441.47" r="2.0"/><circle cx="456.91" cy="441.47" r="2.0"/><circle cx="457.77" cy="442.06" r="2.0"/><circle cx="458.63" cy="442.49" r="2.0"/><circle cx="459.49" cy="442.46" r="2.0"/><circle cx="460.36" cy="442.81" r="2.0"/><circle cx="461.22" cy="443.91" r="2.0"/><circle cx="462.08" cy="444.04" r="2.0"/><circle cx="462.94" cy="445.70" r="2.0"/><circle cx="463.80" cy="446.44" r="2.0"/><circle cx="464.66" cy="446.46" r="2.0"/><circle cx="465.52" cy="447.50" r="2.0"/><circle cx="466.38" cy="448.05" r="2.0"/><circle cx="467.25" cy="448.79" r="2.0"/><circle cx="468.11" cy="449.63" r="2.0"/><circle cx="468.97" cy="450.06" r="2.0"/><circle cx="469.83" cy="450.77" r="2.0"/><circle cx="470.69" cy="451.76" r="2.0"/><circle cx="471.55" cy="451.90" r="2.0"/><circle cx="472.41" cy="452.47" r="2.0"/><circle cx="473.27" cy="452.61" r="2.0"/><circle cx="474.14" cy="453.88" r="2.0"/><circle cx="475.00" cy="454.10" r="2.0"/><circle cx="475.86" cy="454.70" r="2.0"/><circle cx="476.72" cy="455.07" r="2.0"/><circle cx="477.58" cy="455.04" r="2.0"/><circle cx="478.44" cy="455.73" r="2.0"/><circle cx="479.30" cy="456.29" r="2.0"/><circle cx="480.16" cy="456.47" r="2.0"/><circle cx="481.03" cy="456.65" r="2.0"/><circle cx="481.89" cy="457.40" r="2.0"/><circle cx="482.75" cy="457.52" r="2.0"/><circle cx="483.61" cy="457.35" r="2.0"/><circle cx="484.47" cy="457.79" r="2.0"/><circle cx="485.33" cy="458.25" r="2.0"/><circle cx="486.19" cy="458.58" r="2.0"/><circle cx="487.05" cy="458.68" r="2.0"/><circle cx="487.92" cy="459.19" r="2.0"/><circle cx="488.78" cy="458.72" r="2.0"/><circle cx="489.64" cy="459.01" r="2.0"/><circle cx="490.50" cy="459.20" r="2.0"/><circle cx="491.36" cy="459.69" r="2.0"/><circle cx="492.22" cy="459.66" r="2.0"/><circle cx="493.08" cy="459.45" r="2.0"/><circle cx="493.94" cy="459.60" r="2.0"/><circle cx="494.81" cy="459.85" r="2.0"/><circle cx="495.67" cy="459.64" r="2.0"/><circle cx="496.53" cy="459.56" r="2.0"/><circle cx="497.39" cy="459.95" r="2.0"/><circle cx="498.25" cy="459.85" r="2.0"/><circle cx="499.11" cy="459.83" r="2.0"/><circle cx="499.97" cy="459.76" r="2.0"/><circle cx="500.84" cy="459.09" r="2.0"/><circle cx="501.70" cy="458.96" r="2.0"/><circle cx="502.56" cy="458.78" r="2.0"/><circle cx="503.42" cy="458.92" r="2.0"/><circle cx="504.28" cy="458.64" r="2.0"/><circle cx="505.14" cy="458.14" r="2.0"/><circle cx="506.00" cy="457.98" r="2.0"/><circle cx="506.86" cy="457.59" r="2.0"/><circle cx="507.73" cy="457.48" r="2.0"/><circle cx="508.59" cy="456.79" r="2.0"/><circle cx="509.45" cy="456.12" r="2.0"/><circle cx="510.31" cy="455.78" r="2.0"/><circle cx="511.17" cy="455.35" r="2.0"/><circle cx="512.03" cy="455.32" r="2.0"/><circle cx="512.89" cy="454.68" r="2.0"/><circle cx="513.75" cy="454.60" r="2.0"/><circle cx="514.62" cy="453.86" r="2.0"/><circle cx="515.48" cy="453.78" r="2.0"/><circle cx="516.34" cy="453.41" r="2.0"/><circle cx="517.20" cy="453.03" r="2.0"/><circle cx="518.06" cy="452.29" r="2.0"/><circle cx="518.92" cy="451.98" r="2.0"/><circle cx="519.78" cy="451.60" r="2.0"/><circle cx="520.64" cy="451.53" r="2.0"/><circle cx="521.51" cy="450.82" r="2.0"/><circle cx="522.37" cy="450.84" r="2.0"/><circle cx="523.23" cy="449.74" r="2.0"/><circle cx="524.09" cy="449.79" r="2.0"/><circle cx="524.95" cy="449.36" r="2.0"/><circle cx="525.81" cy="449.09" r="2.0"/><circle cx="526.67" cy="449.12" r="2.0"/><circle cx="527.53" cy="448.73" r="2.0"/><circle cx="528.40" cy="448.06" r="2.0"/><circle cx="529.26" cy="447.34" r="2.0"/><circle cx="530.12" cy="447.65" r="2.0"/><circle cx="530.98" cy="447.19" r="2.0"/><circle cx="531.84" cy="446.66" r="2.0"/><circle cx="532.70" cy="446.68" r="2.0"/><circle cx="533.56" cy="446.26" r="2.0"/><circle cx="534.42" cy="445.50" r="2.0"/><circle cx="535.29" cy="444.93" r="2.0"/><circle cx="536.15" cy="444.50" r="2.0"/><circle cx="537.01" cy="443.46" r="2.0"/><circle cx="537.87" cy="443.27" r="2.0"/><circle cx="538.73" cy="442.48" r="2.0"/><circle cx="539.59" cy="441.45" r="2.0"/><circle cx="540.45" cy="440.64" r="2.0"/><circle cx="541.32" cy="440.61" r="2.0"/><circle cx="542.18" cy="439.37" r="2.0"/><circle cx="543.04" cy="437.97" r="2.0"/><circle cx="543.90" cy="437.50" r="2.0"/><circle cx="544.76" cy="436.18" r="2.0"/><circle cx="545.62" cy="434.97" r="2.0"/><circle cx="546.48" cy="433.58" r="2.0"/><circle cx="547.34" cy="432.00" r="2.0"/><circle cx="548.21" cy="430.04" r="2.0"/><circle cx="549.07" cy="428.01" r="2.0"/><circle cx="549.93" cy="426.07" r="2.0"/><circle cx="550.79" cy="424.45" r="2.0"/><circle cx="551.65" cy="422.82" r="2.0"/><circle cx="552.51" cy="420.10" r="2.0"/><circle cx="553.37" cy="417.80" r="2.0"/><circle cx="554.23" cy="415.14" r="2.0"/><circle cx="555.10" cy="412.65" r="2.0"/><circle cx="555.96" cy="410.35" r="2.0"/><circle cx="556.82" cy="406.97" r="2.0"/><circle cx="557.68" cy="404.66" r="2.0"/><circle cx="558.54" cy="401.30" r="2.0"/><circle cx="559.40" cy="397.95" r="2.0"/><circle cx="560.26" cy="394.77" r="2.0"/><circle cx="561.12" cy="391.24" r="2.0"/><circle cx="561.99" cy="388.94" r="2.0"/><circle cx="562.85" cy="384.94" r="2.0"/><circle cx="563.71" cy="381.52" r="2.0"/><circle cx="564.57" cy="378.43" r="2.0"/><circle cx="565.43" cy="374.85" r="2.0"/><circle cx="566.29" cy="371.98" r="2.0"/><circle cx="567.15" cy="368.27" r="2.0"/><circle cx="568.01" cy="365.09" r="2.0"/><circle cx="568.88" cy="362.34" r="2.0"/><circle cx="569.74" cy="359.22" r="2.0"/><circle cx="570.60" cy="356.17" r="2.0"/><circle cx="571.46" cy="353.49" r="2.0"/><circle cx="572.32" cy="350.41" r="2.0"/><circle cx="573.18" cy="348.13" r="2.0"/><circle cx="574.04" cy="345.52" r="2.0"/><circle cx="574.90" cy="343.43" r="2.0"/><circle cx="575.77" cy="341.78" r="2.0"/><circle cx="576.63" cy="340.13" r="2.0"/><circle cx="577.49" cy="338.84" r="2.0"/><circle cx="578.35" cy="337.56" r="2.0"/><circle cx="579.21" cy="336.56" r="2.0"/><circle cx="580.07" cy="335.53" r="2.0"/><circle cx="580.93" cy="335.35" r="2.0"/><circle cx="581.79" cy="334.89" r="2.0"/><circle cx="582.66" cy="334.91" r="2.0"/><circle cx="583.52" cy="335.41" r="2.0"/><circle cx="584.38" cy="335.94" r="2.0"/><circle cx="585.24" cy="336.42" r="2.0"/><circle cx="586.10" cy="337.54" r="2.0"/><circle cx="586.96" cy="339.56" r="2.0"/><circle cx="587.82" cy="341.10" r="2.0"/><circle cx="588.69" cy="343.08" r="2.0"/><circle cx="589.55" cy="345.24" r="2.0"/><circle cx="590.41" cy="347.18" r="2.0"/><circle cx="591.27" cy="350.01" r="2.0"/><circle cx="592.13" cy="352.68" r="2.0"/><circle cx="592.99" cy="355.53" r="2.0"/><circle cx="593.85" cy="359.24" r="2.0"/><circle cx="594.71" cy="362.47" r="2.0"/><circle cx="595.58" cy="365.83" r="2.0"/><circle cx="596.44" cy="369.10" r="2.0"/><circle cx="597.30" cy="372.99" r="2.0"/><circle cx="598.16" cy="376.48" r="2.0"/><circle cx="599.02" cy="380.07" r="2.0"/><circle cx="599.88" cy="383.82" r="2.0"/><circle cx="600.74" cy="387.76" r="2.0"/><circle cx="601.60" cy="391.82" r="2.0"/><circle cx="602.47" cy="395.74" r="2.0"/><circle cx="603.33" cy="398.76" r="2.0"/><circle cx="604.19" cy="402.57" r="2.0"/><circle cx="605.05" cy="406.49" r="2.0"/><circle cx="605.91" cy="409.88" r="2.0"/><circle cx="606.77" cy="413.28" r="2.0"/><circle cx="607.63" cy="416.90" r="2.0"/><circle cx="608.49" cy="419.62" r="2.0"/><circle cx="609.36" cy="422.98" r="2.0"/><circle cx="610.22" cy="425.84" r="2.0"/><circle cx="611.08" cy="428.43" r="2.0"/><circle cx="611.94" cy="431.37" r="2.0"/><circle cx="612.80" cy="433.81" r="2.0"/><circle cx="613.66" cy="436.31" r="2.0"/><circle cx="614.52" cy="438.74" r="2.0"/><circle cx="615.38" cy="440.93" r="2.0"/><circle cx="616.25" cy="442.55" r="2.0"/><circle cx="617.11" cy="444.99" r="2.0"/><circle cx="617.97" cy="446.35" r="2.0"/><circle cx="618.83" cy="448.68" r="2.0"/><circle cx="619.69" cy="449.83" r="2.0"/><circle cx="620.55" cy="451.41" r="2.0"/><circle cx="621.41" cy="452.97" r="2.0"/><circle cx="622.27" cy="454.68" r="2.0"/><circle cx="623.14" cy="454.75" r="2.0"/><circle cx="624.00" cy="456.46" r="2.0"/><circle cx="624.86" cy="457.36" r="2.0"/><circle cx="625.72" cy="457.94" r="2.0"/><circle cx="626.58" cy="458.73" r="2.0"/><circle cx="627.44" cy="459.38" r="2.0"/><circle cx="628.30" cy="460.15" r="2.0"/><circle cx="629.17" cy="461.04" r="2.0"/><circle cx="630.03" cy="460.97" r="2.0"/><circle cx="630.89" cy="461.88" r="2.0"/><circle cx="631.75" cy="462.02" r="2.0"/><circle cx="632.61" cy="462.31" r="2.0"/><circle cx="633.47" cy="462.50" r="2.0"/><circle cx="634.33" cy="463.16" r="2.0"/><circle cx="635.19" cy="463.46" r="2.0"/><circle cx="636.06" cy="463.69" r="2.0"/><circle cx="636.92" cy="464.32" r="2.0"/><circle cx="637.78" cy="464.25" r="2.0"/><circle cx="638.64" cy="464.50" r="2.0"/><circle cx="639.50" cy="464.70" r="2.0"/><circle cx="640.36" cy="464.52" r="2.0"/><circle cx="641.22" cy="464.77" r="2.0"/><circle cx="642.08" cy="464.41" r="2.0"/><circle cx="642.95" cy="464.53" r="2.0"/><circle cx="643.81" cy="465.46" r="2.0"/><circle cx="644.67" cy="465.03" r="2.0"/><circle cx="645.53" cy="465.37" r="2.0"/><circle cx="646.39" cy="465.03" r="2.0"/><circle cx="647.25" cy="465.17" r="2.0"/><circle cx="648.11" cy="465.01" r="2.0"/><circle cx="648.97" cy="465.18" r="2.0"/><circle cx="649.84" cy="465.09" r="2.0"/><circle cx="650.70" cy="465.36" r="2.0"/><circle cx="651.56" cy="465.80" r="2.0"/><circle cx="652.42" cy="465.59" r="2.0"/><circle cx="653.28" cy="465.51" r="2.0"/><circle cx="654.14" cy="465.42" r="2.0"/><circle cx="655.00" cy="465.56" r="2.0"/></g>
<g clip-path="url(#cb)" fill="none" stroke="#fff" stroke-opacity="0.9"><path d="M367.43,463.89L367.24,466.18" stroke-width="0.50"/><path d="M369.14,464.45L368.98,466.75" stroke-width="0.50"/><path d="M370.81,464.33L370.76,466.63" stroke-width="0.50"/><path d="M372.49,464.44L372.52,466.74" stroke-width="0.50"/><path d="M374.19,464.16L374.26,466.46" stroke-width="0.50"/><path d="M375.90,464.42L376.00,466.72" stroke-width="0.50"/><path d="M377.61,463.95L377.74,466.24" stroke-width="0.50"/><path d="M379.31,464.37L379.48,466.66" stroke-width="0.50"/><path d="M381.02,463.77L381.21,466.06" stroke-width="0.50"/><path d="M382.74,463.86L382.95,466.15" stroke-width="0.50"/><path d="M384.45,463.45L384.67,465.74" stroke-width="0.50"/><path d="M386.18,463.39L386.40,465.68" stroke-width="0.50"/><path d="M387.91,463.24L388.11,465.53" stroke-width="0.50"/><path d="M389.63,463.02L389.83,465.31" stroke-width="0.50"/><path d="M391.33,463.02L391.58,465.31" stroke-width="0.50"/><path d="M393.01,462.78L393.34,465.06" stroke-width="0.50"/><path d="M394.69,462.52L395.11,464.78" stroke-width="0.50"/><path d="M396.38,462.17L396.86,464.42" stroke-width="0.50"/><path d="M398.07,461.80L398.61,464.04" stroke-width="0.50"/><path d="M399.77,461.80L400.36,464.02" stroke-width="0.50"/><path d="M401.45,460.96L402.12,463.16" stroke-width="0.50"/><path d="M403.14,460.37L403.89,462.54" stroke-width="0.50"/><path d="M404.83,459.43L405.64,461.58" stroke-width="0.50"/><path d="M406.52,458.97L407.39,461.10" stroke-width="0.51"/><path d="M408.19,458.74L409.16,460.83" stroke-width="0.51"/><path d="M409.88,457.40L410.93,459.44" stroke-width="0.51"/><path d="M411.58,456.43L412.67,458.45" stroke-width="0.52"/><path d="M413.30,455.69L414.40,457.71" stroke-width="0.52"/><path d="M415.00,454.53L416.14,456.53" stroke-width="0.52"/><path d="M416.69,453.83L417.89,455.80" stroke-width="0.52"/><path d="M418.38,453.06L419.65,454.98" stroke-width="0.53"/><path d="M420.09,451.68L421.38,453.58" stroke-width="0.53"/><path d="M421.83,449.75L423.09,451.67" stroke-width="0.53"/><path d="M423.57,449.29L424.80,451.24" stroke-width="0.52"/><path d="M425.30,448.39L426.51,450.35" stroke-width="0.52"/><path d="M427.01,447.00L428.24,448.94" stroke-width="0.52"/><path d="M428.72,445.96L429.97,447.89" stroke-width="0.53"/><path d="M430.44,444.68L431.70,446.60" stroke-width="0.53"/><path d="M432.15,443.65L433.44,445.56" stroke-width="0.53"/><path d="M433.85,442.67L435.19,444.54" stroke-width="0.53"/><path d="M435.56,440.99L436.92,442.85" stroke-width="0.53"/><path d="M437.32,439.49L438.61,441.39" stroke-width="0.53"/><path d="M439.13,438.79L440.24,440.81" stroke-width="0.52"/><path d="M441.00,437.76L441.82,439.91" stroke-width="0.50"/><path d="M442.90,437.19L443.36,439.45" stroke-width="0.50"/><path d="M444.82,436.94L444.88,439.24" stroke-width="0.50"/><path d="M446.71,436.76L446.44,439.05" stroke-width="0.50"/><path d="M448.55,437.55L448.05,439.80" stroke-width="0.50"/><path d="M450.33,437.88L449.71,440.10" stroke-width="0.50"/><path d="M452.10,438.35L451.38,440.53" stroke-width="0.50"/><path d="M453.87,439.00L453.06,441.16" stroke-width="0.50"/><path d="M455.61,440.29L454.76,442.43" stroke-width="0.51"/><path d="M457.36,440.41L456.46,442.53" stroke-width="0.51"/><path d="M459.15,441.46L458.12,443.52" stroke-width="0.51"/><path d="M460.97,441.84L459.74,443.79" stroke-width="0.52"/><path d="M462.77,443.12L461.39,444.96" stroke-width="0.54"/><path d="M464.52,445.54L463.08,447.34" stroke-width="0.54"/><path d="M466.24,446.61L464.81,448.40" stroke-width="0.54"/><path d="M467.95,447.88L466.54,449.70" stroke-width="0.54"/><path d="M469.65,449.14L468.29,450.99" stroke-width="0.53"/><path d="M471.34,450.81L470.04,452.71" stroke-width="0.53"/><path d="M473.03,451.49L471.80,453.44" stroke-width="0.52"/><path d="M474.71,452.88L473.56,454.87" stroke-width="0.52"/><path d="M476.39,453.68L475.33,455.71" stroke-width="0.51"/><path d="M478.07,454.00L477.09,456.08" stroke-width="0.51"/><path d="M479.75,455.23L478.86,457.35" stroke-width="0.51"/><path d="M481.43,455.57L480.62,457.72" stroke-width="0.50"/><path d="M483.11,456.43L482.39,458.61" stroke-width="0.50"/><path d="M484.80,456.69L484.14,458.89" stroke-width="0.50"/><path d="M486.48,457.46L485.91,459.69" stroke-width="0.50"/><path d="M488.15,458.07L487.68,460.32" stroke-width="0.50"/><path d="M489.83,457.88L489.45,460.15" stroke-width="0.50"/><path d="M491.51,458.55L491.22,460.83" stroke-width="0.50"/><path d="M493.18,458.31L492.99,460.60" stroke-width="0.50"/><path d="M494.86,458.70L494.76,461.00" stroke-width="0.50"/><path d="M496.52,458.41L496.54,460.71" stroke-width="0.50"/><path d="M498.16,458.70L498.35,460.99" stroke-width="0.50"/><path d="M499.79,458.62L500.16,460.89" stroke-width="0.50"/><path d="M501.45,457.84L501.94,460.08" stroke-width="0.50"/><path d="M503.12,457.81L503.72,460.03" stroke-width="0.50"/><path d="M504.77,457.05L505.51,459.23" stroke-width="0.50"/><path d="M506.43,456.52L507.30,458.65" stroke-width="0.51"/><path d="M508.11,455.74L509.06,457.84" stroke-width="0.51"/><path d="M509.83,454.73L510.79,456.83" stroke-width="0.51"/><path d="M511.57,454.26L512.49,456.37" stroke-width="0.51"/><path d="M513.30,453.54L514.21,455.65" stroke-width="0.51"/><path d="M515.01,452.73L515.94,454.84" stroke-width="0.51"/><path d="M516.72,451.99L517.68,454.08" stroke-width="0.51"/><path d="M518.44,450.94L519.40,453.03" stroke-width="0.51"/><path d="M520.18,450.48L521.11,452.58" stroke-width="0.51"/><path d="M521.91,449.78L522.82,451.89" stroke-width="0.51"/><path d="M523.66,448.72L524.52,450.85" stroke-width="0.51"/><path d="M525.39,448.02L526.23,450.16" stroke-width="0.50"/><path d="M527.11,447.66L527.96,449.80" stroke-width="0.51"/><path d="M528.83,446.28L529.69,448.41" stroke-width="0.51"/><path d="M530.53,446.13L531.43,448.25" stroke-width="0.51"/><path d="M532.19,445.65L533.22,447.70" stroke-width="0.51"/><path d="M533.83,444.51L535.02,446.48" stroke-width="0.52"/><path d="M535.49,443.56L536.81,445.44" stroke-width="0.53"/><path d="M537.16,442.37L538.58,444.18" stroke-width="0.54"/><path d="M538.83,440.59L540.36,442.31" stroke-width="0.55"/><path d="M540.49,439.80L542.14,441.41" stroke-width="0.57"/><path d="M542.15,437.24L543.93,438.70" stroke-width="0.59"/><path d="M543.81,435.54L545.71,436.83" stroke-width="0.63"/><path d="M544.65,434.37L546.60,435.58" stroke-width="0.65"/><path d="M545.48,433.01L547.48,434.15" stroke-width="0.67"/><path d="M546.33,431.46L548.36,432.54" stroke-width="0.69"/><path d="M547.17,429.53L549.24,430.55" stroke-width="0.71"/><path d="M548.02,427.53L550.11,428.50" stroke-width="0.73"/><path d="M548.88,425.61L550.98,426.54" stroke-width="0.75"/><path d="M549.73,424.01L551.85,424.90" stroke-width="0.77"/><path d="M550.58,422.40L552.72,423.25" stroke-width="0.79"/><path d="M551.44,419.69L553.59,420.50" stroke-width="0.81"/><path d="M552.29,417.41L554.46,418.19" stroke-width="0.83"/><path d="M553.15,414.76L555.32,415.51" stroke-width="0.85"/><path d="M554.00,412.29L556.19,413.01" stroke-width="0.87"/><path d="M554.86,410.00L557.05,410.69" stroke-width="0.89"/><path d="M555.72,406.64L557.92,407.30" stroke-width="0.92"/><path d="M556.58,404.34L558.78,404.99" stroke-width="0.93"/><path d="M557.43,400.99L559.65,401.62" stroke-width="0.95"/><path d="M558.29,397.65L560.51,398.26" stroke-width="0.97"/><path d="M559.15,394.47L561.37,395.07" stroke-width="0.98"/><path d="M560.01,390.94L562.24,391.53" stroke-width="0.99"/><path d="M560.87,388.64L563.10,389.23" stroke-width="0.99"/><path d="M561.73,384.65L563.96,385.24" stroke-width="1.00"/><path d="M562.60,381.23L564.82,381.81" stroke-width="1.00"/><path d="M563.46,378.14L565.68,378.72" stroke-width="1.00"/><path d="M564.32,374.56L566.54,375.15" stroke-width="0.99"/><path d="M565.18,371.68L567.40,372.28" stroke-width="0.98"/><path d="M566.04,367.97L568.26,368.57" stroke-width="0.97"/><path d="M566.91,364.78L569.12,365.40" stroke-width="0.96"/><path d="M567.77,362.02L569.98,362.65" stroke-width="0.95"/><path d="M568.63,358.90L570.84,359.55" stroke-width="0.93"/><path d="M569.50,355.84L571.70,356.51" stroke-width="0.91"/><path d="M570.36,353.14L572.55,353.84" stroke-width="0.88"/><path d="M571.23,350.04L573.41,350.78" stroke-width="0.85"/><path d="M572.10,347.73L574.26,348.52" stroke-width="0.82"/><path d="M572.98,345.10L575.11,345.95" stroke-width="0.79"/><path d="M573.85,342.96L575.96,343.89" stroke-width="0.75"/><path d="M574.74,341.27L576.80,342.29" stroke-width="0.71"/><path d="M575.63,339.57L577.63,340.70" stroke-width="0.67"/><path d="M577.45,336.84L579.25,338.28" stroke-width="0.59"/><path d="M579.42,334.58L580.73,336.47" stroke-width="0.53"/><path d="M581.68,333.75L581.91,336.04" stroke-width="0.50"/><path d="M584.05,334.39L582.99,336.43" stroke-width="0.51"/><path d="M586.11,335.67L584.37,337.17" stroke-width="0.58"/><path d="M587.96,339.00L585.96,340.13" stroke-width="0.67"/><path d="M588.86,340.60L586.79,341.61" stroke-width="0.71"/><path d="M589.74,342.63L587.63,343.54" stroke-width="0.75"/><path d="M590.62,344.82L588.47,345.65" stroke-width="0.79"/><path d="M591.49,346.80L589.32,347.57" stroke-width="0.83"/><path d="M592.36,349.65L590.18,350.37" stroke-width="0.87"/><path d="M593.23,352.34L591.03,353.01" stroke-width="0.91"/><path d="M594.10,355.22L591.89,355.85" stroke-width="0.94"/><path d="M594.96,358.93L592.74,359.54" stroke-width="0.97"/><path d="M595.83,362.18L593.60,362.76" stroke-width="1.00"/><path d="M596.69,365.54L594.46,366.11" stroke-width="1.00"/><path d="M597.55,368.83L595.32,369.38" stroke-width="1.00"/><path d="M598.42,372.72L596.18,373.26" stroke-width="1.00"/><path d="M599.28,376.21L597.04,376.74" stroke-width="1.00"/><path d="M600.14,379.81L597.90,380.33" stroke-width="1.00"/><path d="M601.00,383.56L598.76,384.08" stroke-width="1.00"/><path d="M601.86,387.50L599.62,388.02" stroke-width="1.00"/><path d="M602.72,391.56L600.48,392.08" stroke-width="1.00"/><path d="M603.59,395.48L601.35,396.00" stroke-width="1.00"/><path d="M604.45,398.50L602.21,399.03" stroke-width="1.00"/><path d="M605.31,402.30L603.07,402.84" stroke-width="1.00"/><path d="M606.17,406.22L603.93,406.76" stroke-width="1.00"/><path d="M607.03,409.60L604.80,410.16" stroke-width="1.00"/><path d="M607.89,412.99L605.66,413.56" stroke-width="1.00"/><path d="M608.74,416.60L606.52,417.19" stroke-width="0.99"/><path d="M609.60,419.32L607.39,419.93" stroke-width="0.96"/><path d="M610.46,422.66L608.25,423.30" stroke-width="0.94"/><path d="M611.32,425.50L609.12,426.17" stroke-width="0.92"/><path d="M612.18,428.09L609.98,428.78" stroke-width="0.90"/><path d="M613.03,431.01L610.85,431.73" stroke-width="0.87"/><path d="M613.89,433.43L611.71,434.18" stroke-width="0.85"/><path d="M614.74,435.91L612.58,436.70" stroke-width="0.83"/><path d="M615.60,438.33L613.45,439.15" stroke-width="0.80"/><path d="M616.45,440.50L614.32,441.36" stroke-width="0.78"/><path d="M617.30,442.10L615.19,443.00" stroke-width="0.76"/><path d="M618.15,444.52L616.06,445.47" stroke-width="0.74"/><path d="M619.00,445.86L616.93,446.85" stroke-width="0.72"/><path d="M619.85,448.15L617.81,449.20" stroke-width="0.70"/><path d="M620.70,449.27L618.68,450.38" stroke-width="0.68"/><path d="M621.54,450.83L619.56,452.00" stroke-width="0.66"/><path d="M623.21,454.02L621.34,455.35" stroke-width="0.62"/><path d="M624.87,455.72L623.12,457.21" stroke-width="0.58"/><path d="M626.52,457.11L624.92,458.77" stroke-width="0.56"/><path d="M628.16,458.48L626.73,460.28" stroke-width="0.54"/><path d="M629.79,460.07L628.54,462.00" stroke-width="0.53"/><path d="M631.42,460.86L630.35,462.89" stroke-width="0.51"/><path d="M633.08,461.26L632.14,463.36" stroke-width="0.51"/><path d="M634.75,462.09L633.91,464.23" stroke-width="0.50"/><path d="M636.41,462.60L635.70,464.79" stroke-width="0.50"/><path d="M638.04,463.13L637.52,465.37" stroke-width="0.50"/><path d="M639.68,463.56L639.33,465.84" stroke-width="0.50"/><path d="M641.36,463.63L641.09,465.91" stroke-width="0.50"/><path d="M643.06,463.39L642.83,465.68" stroke-width="0.50"/><path d="M644.76,463.89L644.58,466.18" stroke-width="0.50"/><path d="M646.45,463.89L646.33,466.18" stroke-width="0.50"/><path d="M648.18,463.86L648.05,466.16" stroke-width="0.50"/><path d="M649.91,463.94L649.76,466.23" stroke-width="0.50"/><path d="M651.62,464.65L651.49,466.95" stroke-width="0.50"/><path d="M653.32,464.36L653.24,466.66" stroke-width="0.50"/><path d="M655.02,464.41L654.98,466.71" stroke-width="0.50"/></g>
<g clip-path="url(#cb)" fill="none" stroke-linejoin="round">
<path d="M365.51,465.47 L365.83,465.47 L366.16,465.47 L366.48,465.47 L366.81,465.47 L367.14,465.46 L367.46,465.46 L367.79,465.46 L368.11,465.46 L368.44,465.45 L368.77,465.45 L369.09,465.45 L369.42,465.44 L369.74,465.44 L370.07,465.43 L370.40,465.43 L370.72,465.42 L371.05,465.42 L371.38,465.41 L371.70,465.41 L372.03,465.40 L372.35,465.40 L372.68,465.39 L373.01,465.38 L373.33,465.38 L373.66,465.37 L373.98,465.36 L374.31,465.35 L374.64,465.34 L374.96,465.33 L375.29,465.32 L375.62,465.31 L375.94,465.30 L376.27,465.29 L376.59,465.27 L376.92,465.26 L377.25,465.25 L377.57,465.23 L377.90,465.21 L378.22,465.20 L378.55,465.18 L378.88,465.16 L379.20,465.14 L379.53,465.12 L379.86,465.10 L380.18,465.08 L380.51,465.05 L380.83,465.03 L381.16,465.00 L381.49,464.98 L381.81,464.95 L382.14,464.92 L382.46,464.88 L382.79,464.85 L383.12,464.82 L383.44,464.78 L383.77,464.74 L384.09,464.70 L384.42,464.66 L384.75,464.62 L385.07,464.57 L385.40,464.53 L385.73,464.48 L386.05,464.43 L386.38,464.37 L386.70,464.32 L387.03,464.26 L387.36,464.20 L387.68,464.13 L388.01,464.07 L388.33,464.00 L388.66,463.93 L388.99,463.85 L389.31,463.78 L389.64,463.70 L389.97,463.61 L390.29,463.53 L390.62,463.44 L390.94,463.34 L391.27,463.25 L391.60,463.15 L391.92,463.04 L392.25,462.93 L392.57,462.82 L392.90,462.71 L393.23,462.59 L393.55,462.46 L393.88,462.34 L394.21,462.20 L394.53,462.07 L394.86,461.93 L395.18,461.78 L395.51,461.63 L395.84,461.48 L396.16,461.32 L396.49,461.15 L396.81,460.98 L397.14,460.81 L397.47,460.63 L397.79,460.44 L398.12,460.25 L398.45,460.06 L398.77,459.85 L399.10,459.65 L399.42,459.44 L399.75,459.22 L400.08,458.99 L400.40,458.76 L400.73,458.53 L401.05,458.29 L401.38,458.04 L401.71,457.79 L402.03,457.53 L402.36,457.26 L402.68,456.99 L403.01,456.71 L403.34,456.43 L403.66,456.14 L403.99,455.85 L404.32,455.54 L404.64,455.24 L404.97,454.92 L405.29,454.60 L405.62,454.28 L405.95,453.95 L406.27,453.61 L406.60,453.27 L406.92,452.92 L407.25,452.56 L407.58,452.20 L407.90,451.84 L408.23,451.46 L408.56,451.09 L408.88,450.71 L409.21,450.32 L409.53,449.93 L409.86,449.53 L410.19,449.13 L410.51,448.72 L410.84,448.31 L411.16,447.89 L411.49,447.47 L411.82,447.05 L412.14,446.62 L412.47,446.19 L412.80,445.76 L413.12,445.32 L413.45,444.88 L413.77,444.44 L414.10,443.99 L414.43,443.54 L414.75,443.09 L415.08,442.64 L415.40,442.19 L415.73,441.73 L416.06,441.28 L416.38,440.82 L416.71,440.37 L417.04,439.91 L417.36,439.45 L417.69,439.00 L418.01,438.54 L418.34,438.09 L418.67,437.64 L418.99,437.19 L419.32,436.74 L419.64,436.29 L419.97,435.85 L420.30,435.41 L420.62,434.97 L420.95,434.54 L421.27,434.11 L421.60,433.69 L421.93,433.27 L422.25,432.86 L422.58,432.45 L422.91,432.05 L423.23,431.65 L423.56,431.26 L423.88,430.88 L424.21,430.50 L424.54,430.13 L424.86,429.77 L425.19,429.42 L425.51,429.08 L425.84,428.74 L426.17,428.41 L426.49,428.10 L426.82,427.79 L427.15,427.49 L427.47,427.21 L427.80,426.93 L428.12,426.66 L428.45,426.41 L428.78,426.17 L429.10,425.93 L429.43,425.71 L429.75,425.50 L430.08,425.31 L430.41,425.12 L430.73,424.95 L431.06,424.79 L431.39,424.64 L431.71,424.51 L432.04,424.39 L432.36,424.28 L432.69,424.19 L433.02,424.11 L433.34,424.04 L433.67,423.98 L433.99,423.94 L434.32,423.92 L434.65,423.90 L434.97,423.90 L435.30,423.92 L435.63,423.94 L435.95,423.98 L436.28,424.04 L436.60,424.11 L436.93,424.19 L437.26,424.28 L437.58,424.39 L437.91,424.51 L438.23,424.64 L438.56,424.79 L438.89,424.95 L439.21,425.12 L439.54,425.31 L439.86,425.50 L440.19,425.71 L440.52,425.93 L440.84,426.16 L441.17,426.41 L441.50,426.66 L441.82,426.93 L442.15,427.21 L442.47,427.49 L442.80,427.79 L443.13,428.10 L443.45,428.41 L443.78,428.74 L444.10,429.08 L444.43,429.42 L444.76,429.77 L445.08,430.13 L445.41,430.50 L445.74,430.88 L446.06,431.26 L446.39,431.65 L446.71,432.05 L447.04,432.45 L447.37,432.86 L447.69,433.27 L448.02,433.69 L448.34,434.11 L448.67,434.54 L449.00,434.97 L449.32,435.41 L449.65,435.85 L449.98,436.29 L450.30,436.74 L450.63,437.19 L450.95,437.64 L451.28,438.09 L451.61,438.54 L451.93,439.00 L452.26,439.45 L452.58,439.91 L452.91,440.36 L453.24,440.82 L453.56,441.28 L453.89,441.73 L454.22,442.19 L454.54,442.64 L454.87,443.09 L455.19,443.54 L455.52,443.99 L455.85,444.43 L456.17,444.88 L456.50,445.32 L456.82,445.76 L457.15,446.19 L457.48,446.62 L457.80,447.05 L458.13,447.47 L458.45,447.89 L458.78,448.31 L459.11,448.72 L459.43,449.13 L459.76,449.53 L460.09,449.92 L460.41,450.32 L460.74,450.70 L461.06,451.09 L461.39,451.46 L461.72,451.83 L462.04,452.20 L462.37,452.56 L462.69,452.92 L463.02,453.27 L463.35,453.61 L463.67,453.95 L464.00,454.28 L464.33,454.60 L464.65,454.92 L464.98,455.24 L465.30,455.54 L465.63,455.85 L465.96,456.14 L466.28,456.43 L466.61,456.71 L466.93,456.99 L467.26,457.26 L467.59,457.53 L467.91,457.79 L468.24,458.04 L468.57,458.29 L468.89,458.53 L469.22,458.76 L469.54,458.99 L469.87,459.22 L470.20,459.43 L470.52,459.65 L470.85,459.85 L471.17,460.06 L471.50,460.25 L471.83,460.44 L472.15,460.63 L472.48,460.81 L472.81,460.98 L473.13,461.15 L473.46,461.32 L473.78,461.48 L474.11,461.63 L474.44,461.78 L474.76,461.93 L475.09,462.07 L475.41,462.20 L475.74,462.34 L476.07,462.46 L476.39,462.59 L476.72,462.71 L477.04,462.82 L477.37,462.93 L477.70,463.04 L478.02,463.15 L478.35,463.25 L478.68,463.34 L479.00,463.44 L479.33,463.52 L479.65,463.61 L479.98,463.69 L480.31,463.78 L480.63,463.85 L480.96,463.93 L481.28,464.00 L481.61,464.07 L481.94,464.13 L482.26,464.20 L482.59,464.26 L482.92,464.31 L483.24,464.37 L483.57,464.42 L483.89,464.48 L484.22,464.53 L484.55,464.57 L484.87,464.62 L485.20,464.66 L485.52,464.70 L485.85,464.74 L486.18,464.78 L486.50,464.82 L486.83,464.85 L487.16,464.88 L487.48,464.91 L487.81,464.94 L488.13,464.97 L488.46,465.00 L488.79,465.03 L489.11,465.05 L489.44,465.07 L489.76,465.10 L490.09,465.12 L490.42,465.14 L490.74,465.16 L491.07,465.18 L491.40,465.19 L491.72,465.21 L492.05,465.23 L492.37,465.24 L492.70,465.25 L493.03,465.27 L493.35,465.28 L493.68,465.29 L494.00,465.30 L494.33,465.31 L494.66,465.32 L494.98,465.33 L495.31,465.34 L495.63,465.35 L495.96,465.36 L496.29,465.36 L496.61,465.37 L496.94,465.38 L497.27,465.38 L497.59,465.39 L497.92,465.39 L498.24,465.39 L498.57,465.40 L498.90,465.40 L499.22,465.40 L499.55,465.41 L499.87,465.41 L500.20,465.41 L500.53,465.41 L500.85,465.41 L501.18,465.41 L501.51,465.41 L501.83,465.41 L502.16,465.41 L502.48,465.41 L502.81,465.41 L503.14,465.41 L503.46,465.41 L503.79,465.40 L504.11,465.40 L504.44,465.40 L504.77,465.39 L505.09,465.39 L505.42,465.38 L505.75,465.38 L506.07,465.37 L506.40,465.37 L506.72,465.36 L507.05,465.35 L507.38,465.34 L507.70,465.34 L508.03,465.33 L508.35,465.32 L508.68,465.31 L509.01,465.30 L509.33,465.29 L509.66,465.27 L509.99,465.26 L510.31,465.25 L510.64,465.23 L510.96,465.22 L511.29,465.20 L511.62,465.18 L511.94,465.17 L512.27,465.15 L512.59,465.13 L512.92,465.11 L513.25,465.09 L513.57,465.06 L513.90,465.04 L514.22,465.01 L514.55,464.99 L514.88,464.96 L515.20,464.93 L515.53,464.90 L515.86,464.87 L516.18,464.84 L516.51,464.80 L516.83,464.77 L517.16,464.73 L517.49,464.69 L517.81,464.64 L518.14,464.60 L518.46,464.55 L518.79,464.50 L519.12,464.45 L519.44,464.40 L519.77,464.34 L520.10,464.28 L520.42,464.21 L520.75,464.15 L521.07,464.07 L521.40,464.00 L521.73,463.92 L522.05,463.83 L522.38,463.74 L522.70,463.64 L523.03,463.54 L523.36,463.43 L523.68,463.32 L524.01,463.20 L524.34,463.07 L524.66,462.93 L524.99,462.78 L525.31,462.63 L525.64,462.46 L525.97,462.28 L526.29,462.10 L526.62,461.90 L526.94,461.69 L527.27,461.46 L527.60,461.23 L527.92,460.98 L528.25,460.71 L528.58,460.43 L528.90,460.13 L529.23,459.82 L529.55,459.49 L529.88,459.14 L530.21,458.77 L530.53,458.38 L530.86,457.97 L531.18,457.54 L531.51,457.09 L531.84,456.61 L532.16,456.12 L532.49,455.59 L532.81,455.04 L533.14,454.47 L533.47,453.87 L533.79,453.24 L534.12,452.59 L534.45,451.90 L534.77,451.19 L535.10,450.45 L535.42,449.68 L535.75,448.87 L536.08,448.04 L536.40,447.17 L536.73,446.27 L537.05,445.33 L537.38,444.36 L537.71,443.35 L538.03,442.31 L538.36,441.24 L538.69,440.12 L539.01,438.97 L539.34,437.78 L539.66,436.55 L539.99,435.29 L540.32,433.98 L540.64,432.63 L540.97,431.24 L541.29,429.81 L541.62,428.34 L541.95,426.82 L542.27,425.27 L542.60,423.66 L542.93,422.02 L543.25,420.32 L543.58,418.59 L543.90,416.80 L544.23,414.97 L544.56,413.09 L544.88,411.16 L545.21,409.19 L545.53,407.17 L545.86,405.09 L546.19,402.97 L546.51,400.79 L546.84,398.57 L547.17,396.29 L547.49,393.96 L547.82,391.58 L548.14,389.15 L548.47,386.67 L548.80,384.13 L549.12,381.53 L549.45,378.89 L549.77,376.19 L550.10,373.43 L550.43,370.62 L550.75,367.76 L551.08,364.84 L551.40,361.87 L551.73,358.84 L552.06,355.76 L552.38,352.63 L552.71,349.44 L553.04,346.20 L553.36,342.90 L553.69,339.56 L554.01,336.16 L554.34,332.70 L554.67,329.20 L554.99,325.65 L555.32,322.04 L555.64,318.39 L555.97,314.69 L556.30,310.94 L556.62,307.14 L556.95,303.30 L557.28,299.42 L557.60,295.49 L557.93,291.52 L558.25,287.51 L558.58,283.46 L558.91,279.37 L559.23,275.25 L559.56,271.09 L559.88,266.90 L560.21,262.68 L560.54,258.43 L560.86,254.15 L561.19,249.85 L561.52,245.52 L561.84,241.17 L562.17,236.80 L562.49,232.42 L562.82,228.02 L563.15,223.60 L563.47,219.18 L563.80,214.75 L564.12,210.31 L564.45,205.87 L564.78,201.43 L565.10,196.99 L565.43,192.55 L565.76,188.13 L566.08,183.71 L566.41,179.31 L566.73,174.92 L567.06,170.55 L567.39,166.20 L567.71,161.88 L568.04,157.58 L568.36,153.31 L568.69,149.08 L569.02,144.88 L569.34,140.72 L569.67,136.60 L569.99,132.53 L570.32,128.50 L570.65,124.53 L570.97,120.61 L571.30,116.74 L571.63,112.93 L571.95,109.19 L572.28,105.51 L572.60,101.90 L572.93,98.35 L573.26,94.89 L573.58,91.49 L573.91,88.18 L574.23,84.95 L574.56,81.80 L574.89,78.73 L575.21,75.76 L575.54,72.88 L575.87,70.09 L576.19,67.40 L576.52,64.80 L576.84,62.31 L577.17,59.91 L577.50,57.63 L577.82,55.44 L578.15,53.37 L578.47,51.41 L578.80,49.56 L579.13,47.82 L579.45,46.19 L579.78,44.68 L580.11,43.29 L580.43,42.02 L580.76,40.87 L581.08,39.83 L581.41,38.92 L581.74,38.13 L582.06,37.47 L582.39,36.93 L582.71,36.51 L583.04,36.21 L583.37,36.05 L583.69,36.00 L584.02,36.08 L584.35,36.29 L584.67,36.62 L585.00,37.07 L585.32,37.65 L585.65,38.35 L585.98,39.17 L586.30,40.12 L586.63,41.19 L586.95,42.37 L587.28,43.68 L587.61,45.11 L587.93,46.65 L588.26,48.31 L588.58,50.08 L588.91,51.96 L589.24,53.96 L589.56,56.06 L589.89,58.27 L590.22,60.59 L590.54,63.01 L590.87,65.54 L591.19,68.16 L591.52,70.88 L591.85,73.70 L592.17,76.61 L592.50,79.61 L592.82,82.70 L593.15,85.87 L593.48,89.12 L593.80,92.46 L594.13,95.88 L594.46,99.37 L594.78,102.93 L595.11,106.56 L595.43,110.26 L595.76,114.02 L596.09,117.85 L596.41,121.73 L596.74,125.67 L597.06,129.66 L597.39,133.70 L597.72,137.78 L598.04,141.92 L598.37,146.09 L598.70,150.30 L599.02,154.54 L599.35,158.82 L599.67,163.12 L600.00,167.45 L600.33,171.81 L600.65,176.18 L600.98,180.57 L601.30,184.98 L601.63,189.40 L601.96,193.83 L602.28,198.27 L602.61,202.70 L602.94,207.15 L603.26,211.59 L603.59,216.02 L603.91,220.45 L604.24,224.87 L604.57,229.28 L604.89,233.68 L605.22,238.06 L605.54,242.42 L605.87,246.76 L606.20,251.08 L606.52,255.38 L606.85,259.65 L607.17,263.89 L607.50,268.10 L607.83,272.28 L608.15,276.43 L608.48,280.54 L608.81,284.61 L609.13,288.65 L609.46,292.65 L609.78,296.60 L610.11,300.51 L610.44,304.38 L610.76,308.21 L611.09,311.98 L611.41,315.71 L611.74,319.40 L612.07,323.03 L612.39,326.61 L612.72,330.14 L613.05,333.62 L613.37,337.05 L613.70,340.43 L614.02,343.75 L614.35,347.02 L614.68,350.23 L615.00,353.39 L615.33,356.50 L615.65,359.55 L615.98,362.54 L616.31,365.48 L616.63,368.36 L616.96,371.19 L617.29,373.96 L617.61,376.68 L617.94,379.34 L618.26,381.95 L618.59,384.50 L618.92,386.99 L619.24,389.43 L619.57,391.82 L619.89,394.15 L620.22,396.43 L620.55,398.65 L620.87,400.82 L621.20,402.94 L621.53,405.01 L621.85,407.02 L622.18,408.99 L622.50,410.91 L622.83,412.77 L623.16,414.59 L623.48,416.36 L623.81,418.08 L624.13,419.75 L624.46,421.38 L624.79,422.96 L625.11,424.50 L625.44,425.99 L625.76,427.44 L626.09,428.85 L626.42,430.21 L626.74,431.54 L627.07,432.82 L627.40,434.07 L627.72,435.27 L628.05,436.44 L628.37,437.57 L628.70,438.67 L629.03,439.73 L629.35,440.75 L629.68,441.74 L630.00,442.70 L630.33,443.63 L630.66,444.52 L630.98,445.39 L631.31,446.22 L631.64,447.02 L631.96,447.80 L632.29,448.55 L632.61,449.27 L632.94,449.96 L633.27,450.63 L633.59,451.28 L633.92,451.90 L634.24,452.50 L634.57,453.07 L634.90,453.63 L635.22,454.16 L635.55,454.67 L635.88,455.16 L636.20,455.63 L636.53,456.08 L636.85,456.52 L637.18,456.94 L637.51,457.34 L637.83,457.72 L638.16,458.09 L638.48,458.44 L638.81,458.78 L639.14,459.10 L639.46,459.41 L639.79,459.71 L640.12,459.99 L640.44,460.26 L640.77,460.52 L641.09,460.77 L641.42,461.01 L641.75,461.23 L642.07,461.45 L642.40,461.65 L642.72,461.85 L643.05,462.04 L643.38,462.22 L643.70,462.39 L644.03,462.55 L644.35,462.71 L644.68,462.85 L645.01,462.99 L645.33,463.13 L645.66,463.25 L645.99,463.38 L646.31,463.49 L646.64,463.60 L646.96,463.70 L647.29,463.80 L647.62,463.90 L647.94,463.99 L648.27,464.07 L648.59,464.15 L648.92,464.23 L649.25,464.30 L649.57,464.37 L649.90,464.43 L650.23,464.49 L650.55,464.55 L650.88,464.61 L651.20,464.66 L651.53,464.71 L651.86,464.75 L652.18,464.80 L652.51,464.84 L652.83,464.88 L653.16,464.92 L653.49,464.95 L653.81,464.98 L654.14,465.02 L654.47,465.05 L654.79,465.07 L655.12,465.10 L655.44,465.12 L655.77,465.15 L656.10,465.17 L656.42,465.19 L656.75,465.21 L657.07,465.23 L657.40,465.25 L657.73,465.26 L658.05,465.28 L658.38,465.29 L658.71,465.30" stroke="#ff0000" stroke-width="1.7"/>
<path d="M365.51,465.47 L365.83,465.47 L366.16,465.47 L366.48,465.47 L366.81,465.47 L367.14,465.46 L367.46,465.46 L367.79,465.46 L368.11,465.46 L368.44,465.45 L368.77,465.45 L369.09,465.45 L369.42,465.44 L369.74,465.44 L370.07,465.43 L370.40,465.43 L370.72,465.42 L371.05,465.42 L371.38,465.41 L371.70,465.41 L372.03,465.40 L372.35,465.40 L372.68,465.39 L373.01,465.38 L373.33,465.38 L373.66,465.37 L373.98,465.36 L374.31,465.35 L374.64,465.34 L374.96,465.33 L375.29,465.32 L375.62,465.31 L375.94,465.30 L376.27,465.29 L376.59,465.27 L376.92,465.26 L377.25,465.25 L377.57,465.23 L377.90,465.21 L378.22,465.20 L378.55,465.18 L378.88,465.16 L379.20,465.14 L379.53,465.12 L379.86,465.10 L380.18,465.08 L380.51,465.05 L380.83,465.03 L381.16,465.00 L381.49,464.98 L381.81,464.95 L382.14,464.92 L382.46,464.88 L382.79,464.85 L383.12,464.82 L383.44,464.78 L383.77,464.74 L384.09,464.70 L384.42,464.66 L384.75,464.62 L385.07,464.57 L385.40,464.53 L385.73,464.48 L386.05,464.43 L386.38,464.37 L386.70,464.32 L387.03,464.26 L387.36,464.20 L387.68,464.13 L388.01,464.07 L388.33,464.00 L388.66,463.93 L388.99,463.85 L389.31,463.78 L389.64,463.70 L389.97,463.61 L390.29,463.53 L390.62,463.44 L390.94,463.34 L391.27,463.25 L391.60,463.15 L391.92,463.04 L392.25,462.93 L392.57,462.82 L392.90,462.71 L393.23,462.59 L393.55,462.46 L393.88,462.34 L394.21,462.20 L394.53,462.07 L394.86,461.93 L395.18,461.78 L395.51,461.63 L395.84,461.48 L396.16,461.32 L396.49,461.15 L396.81,460.98 L397.14,460.81 L397.47,460.63 L397.79,460.44 L398.12,460.25 L398.45,460.06 L398.77,459.85 L399.10,459.65 L399.42,459.44 L399.75,459.22 L400.08,458.99 L400.40,458.76 L400.73,458.53 L401.05,458.29 L401.38,458.04 L401.71,457.79 L402.03,457.53 L402.36,457.26 L402.68,456.99 L403.01,456.71 L403.34,456.43 L403.66,456.14 L403.99,455.85 L404.32,455.54 L404.64,455.24 L404.97,454.92 L405.29,454.60 L405.62,454.28 L405.95,453.95 L406.27,453.61 L406.60,453.27 L406.92,452.92 L407.25,452.56 L407.58,452.20 L407.90,451.84 L408.23,451.46 L408.56,451.09 L408.88,450.71 L409.21,450.32 L409.53,449.93 L409.86,449.53 L410.19,449.13 L410.51,448.72 L410.84,448.31 L411.16,447.89 L411.49,447.47 L411.82,447.05 L412.14,446.62 L412.47,446.19 L412.80,445.76 L413.12,445.32 L413.45,444.88 L413.77,444.44 L414.10,443.99 L414.43,443.54 L414.75,443.09 L415.08,442.64 L415.40,442.19 L415.73,441.73 L416.06,441.28 L416.38,440.82 L416.71,440.37 L417.04,439.91 L417.36,439.45 L417.69,439.00 L418.01,438.54 L418.34,438.09 L418.67,437.64 L418.99,437.19 L419.32,436.74 L419.64,436.29 L419.97,435.85 L420.30,435.41 L420.62,434.97 L420.95,434.54 L421.27,434.11 L421.60,433.69 L421.93,433.27 L422.25,432.86 L422.58,432.45 L422.91,432.05 L423.23,431.65 L423.56,431.26 L423.88,430.88 L424.21,430.50 L424.54,430.13 L424.86,429.77 L425.19,429.42 L425.51,429.08 L425.84,428.74 L426.17,428.41 L426.49,428.10 L426.82,427.79 L427.15,427.49 L427.47,427.21 L427.80,426.93 L428.12,426.66 L428.45,426.41 L428.78,426.17 L429.10,425.93 L429.43,425.71 L429.75,425.50 L430.08,425.31 L430.41,425.12 L430.73,424.95 L431.06,424.79 L431.39,424.64 L431.71,424.51 L432.04,424.39 L432.36,424.28 L432.69,424.19 L433.02,424.11 L433.34,424.04 L433.67,423.98 L433.99,423.94 L434.32,423.92 L434.65,423.90 L434.97,423.90 L435.30,423.92 L435.63,423.94 L435.95,423.98 L436.28,424.04 L436.60,424.11 L436.93,424.19 L437.26,424.28 L437.58,424.39 L437.91,424.51 L438.23,424.64 L438.56,424.79 L438.89,424.95 L439.21,425.12 L439.54,425.31 L439.86,425.50 L440.19,425.71 L440.52,425.93 L440.84,426.16 L441.17,426.41 L441.50,426.66 L441.82,426.93 L442.15,427.21 L442.47,427.49 L442.80,427.79 L443.13,428.10 L443.45,428.41 L443.78,428.74 L444.10,429.08 L444.43,429.42 L444.76,429.77 L445.08,430.13 L445.41,430.50 L445.74,430.88 L446.06,431.26 L446.39,431.65 L446.71,432.05 L447.04,432.45 L447.37,432.86 L447.69,433.27 L448.02,433.69 L448.34,434.11 L448.67,434.54 L449.00,434.97 L449.32,435.41 L449.65,435.85 L449.98,436.29 L450.30,436.74 L450.63,437.19 L450.95,437.64 L451.28,438.09 L451.61,438.54 L451.93,439.00 L452.26,439.45 L452.58,439.91 L452.91,440.36 L453.24,440.82 L453.56,441.28 L453.89,441.73 L454.22,442.19 L454.54,442.64 L454.87,443.09 L455.19,443.54 L455.52,443.99 L455.85,444.43 L456.17,444.88 L456.50,445.32 L456.82,445.76 L457.15,446.19 L457.48,446.62 L457.80,447.05 L458.13,447.47 L458.45,447.89 L458.78,448.31 L459.11,448.72 L459.43,449.13 L459.76,449.53 L460.09,449.92 L460.41,450.32 L460.74,450.70 L461.06,451.09 L461.39,451.46 L461.72,451.83 L462.04,452.20 L462.37,452.56 L462.69,452.92 L463.02,453.27 L463.35,453.61 L463.67,453.95 L464.00,454.28 L464.33,454.60 L464.65,454.92 L464.98,455.24 L465.30,455.54 L465.63,455.85 L465.96,456.14 L466.28,456.43 L466.61,456.71 L466.93,456.99 L467.26,457.26 L467.59,457.53 L467.91,457.79 L468.24,458.04 L468.57,458.29 L468.89,458.53 L469.22,458.76 L469.54,458.99 L469.87,459.22 L470.20,459.43 L470.52,459.65 L470.85,459.85 L471.17,460.06 L471.50,460.25 L471.83,460.44 L472.15,460.63 L472.48,460.81 L472.81,460.98 L473.13,461.15 L473.46,461.32 L473.78,461.48 L474.11,461.63 L474.44,461.78 L474.76,461.93 L475.09,462.07 L475.41,462.20 L475.74,462.34 L476.07,462.46 L476.39,462.59 L476.72,462.71 L477.04,462.82 L477.37,462.93 L477.70,463.04 L478.02,463.15 L478.35,463.25 L478.68,463.34 L479.00,463.44 L479.33,463.53 L479.65,463.61 L479.98,463.69 L480.31,463.78 L480.63,463.85 L480.96,463.93 L481.28,464.00 L481.61,464.07 L481.94,464.13 L482.26,464.20 L482.59,464.26 L482.92,464.32 L483.24,464.37 L483.57,464.42 L483.89,464.48 L484.22,464.53 L484.55,464.57 L484.87,464.62 L485.20,464.66 L485.52,464.70 L485.85,464.74 L486.18,464.78 L486.50,464.82 L486.83,464.85 L487.16,464.88 L487.48,464.92 L487.81,464.95 L488.13,464.97 L488.46,465.00 L488.79,465.03 L489.11,465.05 L489.44,465.08 L489.76,465.10 L490.09,465.12 L490.42,465.14 L490.74,465.16 L491.07,465.18 L491.40,465.20 L491.72,465.21 L492.05,465.23 L492.37,465.24 L492.70,465.26 L493.03,465.27 L493.35,465.28 L493.68,465.30 L494.00,465.31 L494.33,465.32 L494.66,465.33 L494.98,465.34 L495.31,465.35 L495.63,465.35 L495.96,465.36 L496.29,465.37 L496.61,465.38 L496.94,465.38 L497.27,465.39 L497.59,465.39 L497.92,465.40 L498.24,465.41 L498.57,465.41 L498.90,465.41 L499.22,465.42 L499.55,465.42 L499.87,465.42 L500.20,465.43 L500.53,465.43 L500.85,465.43 L501.18,465.43 L501.51,465.44 L501.83,465.44 L502.16,465.44 L502.48,465.44 L502.81,465.44 L503.14,465.44 L503.46,465.44 L503.79,465.44 L504.11,465.44 L504.44,465.44 L504.77,465.44 L505.09,465.44 L505.42,465.44 L505.75,465.43 L506.07,465.43 L506.40,465.43 L506.72,465.43 L507.05,465.42 L507.38,465.42 L507.70,465.42 L508.03,465.41 L508.35,465.41 L508.68,465.41 L509.01,465.40 L509.33,465.40 L509.66,465.39 L509.99,465.39 L510.31,465.38 L510.64,465.37 L510.96,465.37 L511.29,465.36 L511.62,465.35 L511.94,465.34 L512.27,465.33 L512.59,465.33 L512.92,465.32 L513.25,465.31 L513.57,465.30 L513.90,465.28 L514.22,465.27 L514.55,465.26 L514.88,465.25 L515.20,465.24 L515.53,465.22 L515.86,465.21 L516.18,465.19 L516.51,465.18 L516.83,465.16 L517.16,465.14 L517.49,465.12 L517.81,465.10 L518.14,465.08 L518.46,465.06 L518.79,465.04 L519.12,465.01 L519.44,464.99 L519.77,464.96 L520.10,464.93 L520.42,464.90 L520.75,464.87 L521.07,464.84 L521.40,464.80 L521.73,464.77 L522.05,464.73 L522.38,464.68 L522.70,464.64 L523.03,464.59 L523.36,464.54 L523.68,464.49 L524.01,464.43 L524.34,464.37 L524.66,464.31 L524.99,464.24 L525.31,464.17 L525.64,464.09 L525.97,464.01 L526.29,463.92 L526.62,463.83 L526.94,463.73 L527.27,463.63 L527.60,463.52 L527.92,463.40 L528.25,463.28 L528.58,463.15 L528.90,463.01 L529.23,462.87 L529.55,462.71 L529.88,462.55 L530.21,462.38 L530.53,462.20 L530.86,462.01 L531.18,461.81 L531.51,461.60 L531.84,461.38 L532.16,461.15 L532.49,460.91 L532.81,460.66 L533.14,460.39 L533.47,460.11 L533.79,459.82 L534.12,459.52 L534.45,459.20 L534.77,458.87 L535.10,458.53 L535.42,458.17 L535.75,457.80 L536.08,457.41 L536.40,457.01 L536.73,456.59 L537.05,456.15 L537.38,455.70 L537.71,455.24 L538.03,454.76 L538.36,454.26 L538.69,453.74 L539.01,453.21 L539.34,452.66 L539.66,452.09 L539.99,451.50 L540.32,450.90 L540.64,450.27 L540.97,449.63 L541.29,448.96 L541.62,448.28 L541.95,447.58 L542.27,446.86 L542.60,446.12 L542.93,445.35 L543.25,444.57 L543.58,443.76 L543.90,442.94 L544.23,442.09 L544.56,441.22 L544.88,440.32 L545.21,439.41 L545.53,438.47 L545.86,437.51 L546.19,436.53 L546.51,435.52 L546.84,434.49 L547.17,433.43 L547.49,432.36 L547.82,431.25 L548.14,430.13 L548.47,428.97 L548.80,427.80 L549.12,426.60 L549.45,425.37 L549.77,424.12 L550.10,422.84 L550.43,421.54 L550.75,420.21 L551.08,418.86 L551.40,417.49 L551.73,416.08 L552.06,414.66 L552.38,413.20 L552.71,411.73 L553.04,410.22 L553.36,408.70 L553.69,407.15 L554.01,405.57 L554.34,403.97 L554.67,402.35 L554.99,400.70 L555.32,399.03 L555.64,397.34 L555.97,395.62 L556.30,393.89 L556.62,392.13 L556.95,390.35 L557.28,388.55 L557.60,386.73 L557.93,384.89 L558.25,383.03 L558.58,381.16 L558.91,379.26 L559.23,377.35 L559.56,375.43 L559.88,373.48 L560.21,371.53 L560.54,369.56 L560.86,367.58 L561.19,365.58 L561.52,363.58 L561.84,361.56 L562.17,359.54 L562.49,357.51 L562.82,355.47 L563.15,353.42 L563.47,351.37 L563.80,349.32 L564.12,347.26 L564.45,345.20 L564.78,343.15 L565.10,341.09 L565.43,339.04 L565.76,336.99 L566.08,334.94 L566.41,332.90 L566.73,330.87 L567.06,328.84 L567.39,326.83 L567.71,324.82 L568.04,322.83 L568.36,320.85 L568.69,318.89 L569.02,316.95 L569.34,315.02 L569.67,313.11 L569.99,311.23 L570.32,309.36 L570.65,307.52 L570.97,305.70 L571.30,303.91 L571.63,302.15 L571.95,300.41 L572.28,298.71 L572.60,297.03 L572.93,295.39 L573.26,293.78 L573.58,292.21 L573.91,290.68 L574.23,289.18 L574.56,287.72 L574.89,286.30 L575.21,284.92 L575.54,283.59 L575.87,282.29 L576.19,281.05 L576.52,279.84 L576.84,278.69 L577.17,277.58 L577.50,276.52 L577.82,275.51 L578.15,274.55 L578.47,273.64 L578.80,272.78 L579.13,271.97 L579.45,271.22 L579.78,270.52 L580.11,269.88 L580.43,269.29 L580.76,268.75 L581.08,268.28 L581.41,267.85 L581.74,267.49 L582.06,267.18 L582.39,266.93 L582.71,266.74 L583.04,266.60 L583.37,266.52 L583.69,266.50 L584.02,266.54 L584.35,266.63 L584.67,266.79 L585.00,267.00 L585.32,267.26 L585.65,267.59 L585.98,267.97 L586.30,268.41 L586.63,268.90 L586.95,269.45 L587.28,270.06 L587.61,270.72 L587.93,271.43 L588.26,272.20 L588.58,273.02 L588.91,273.90 L589.24,274.82 L589.56,275.80 L589.89,276.82 L590.22,277.89 L590.54,279.02 L590.87,280.19 L591.19,281.40 L591.52,282.66 L591.85,283.97 L592.17,285.31 L592.50,286.70 L592.82,288.14 L593.15,289.61 L593.48,291.11 L593.80,292.66 L594.13,294.24 L594.46,295.86 L594.78,297.51 L595.11,299.19 L595.43,300.91 L595.76,302.65 L596.09,304.42 L596.41,306.22 L596.74,308.05 L597.06,309.89 L597.39,311.77 L597.72,313.66 L598.04,315.57 L598.37,317.51 L598.70,319.46 L599.02,321.42 L599.35,323.40 L599.67,325.40 L600.00,327.41 L600.33,329.42 L600.65,331.45 L600.98,333.49 L601.30,335.53 L601.63,337.58 L601.96,339.63 L602.28,341.68 L602.61,343.74 L602.94,345.80 L603.26,347.85 L603.59,349.91 L603.91,351.96 L604.24,354.01 L604.57,356.05 L604.89,358.09 L605.22,360.12 L605.54,362.14 L605.87,364.15 L606.20,366.15 L606.52,368.15 L606.85,370.12 L607.17,372.09 L607.50,374.04 L607.83,375.98 L608.15,377.90 L608.48,379.80 L608.81,381.69 L609.13,383.56 L609.46,385.41 L609.78,387.24 L610.11,389.06 L610.44,390.85 L610.76,392.62 L611.09,394.37 L611.41,396.10 L611.74,397.81 L612.07,399.49 L612.39,401.15 L612.72,402.79 L613.05,404.40 L613.37,405.99 L613.70,407.55 L614.02,409.09 L614.35,410.60 L614.68,412.09 L615.00,413.56 L615.33,415.00 L615.65,416.41 L615.98,417.80 L616.31,419.16 L616.63,420.49 L616.96,421.80 L617.29,423.09 L617.61,424.35 L617.94,425.58 L618.26,426.79 L618.59,427.97 L618.92,429.12 L619.24,430.25 L619.57,431.36 L619.89,432.44 L620.22,433.50 L620.55,434.53 L620.87,435.53 L621.20,436.51 L621.53,437.47 L621.85,438.41 L622.18,439.32 L622.50,440.20 L622.83,441.07 L623.16,441.91 L623.48,442.73 L623.81,443.53 L624.13,444.30 L624.46,445.06 L624.79,445.79 L625.11,446.50 L625.44,447.19 L625.76,447.87 L626.09,448.52 L626.42,449.15 L626.74,449.76 L627.07,450.36 L627.40,450.94 L627.72,451.50 L628.05,452.04 L628.37,452.56 L628.70,453.07 L629.03,453.56 L629.35,454.03 L629.68,454.49 L630.00,454.94 L630.33,455.37 L630.66,455.78 L630.98,456.18 L631.31,456.57 L631.64,456.94 L631.96,457.30 L632.29,457.65 L632.61,457.98 L632.94,458.30 L633.27,458.61 L633.59,458.91 L633.92,459.20 L634.24,459.48 L634.57,459.74 L634.90,460.00 L635.22,460.24 L635.55,460.48 L635.88,460.71 L636.20,460.93 L636.53,461.14 L636.85,461.34 L637.18,461.53 L637.51,461.72 L637.83,461.90 L638.16,462.07 L638.48,462.23 L638.81,462.39 L639.14,462.54 L639.46,462.68 L639.79,462.82 L640.12,462.95 L640.44,463.07 L640.77,463.19 L641.09,463.31 L641.42,463.42 L641.75,463.52 L642.07,463.62 L642.40,463.72 L642.72,463.81 L643.05,463.90 L643.38,463.98 L643.70,464.06 L644.03,464.13 L644.35,464.21 L644.68,464.27 L645.01,464.34 L645.33,464.40 L645.66,464.46 L645.99,464.52 L646.31,464.57 L646.64,464.62 L646.96,464.67 L647.29,464.71 L647.62,464.76 L647.94,464.80 L648.27,464.84 L648.59,464.87 L648.92,464.91 L649.25,464.94 L649.57,464.97 L649.90,465.00 L650.23,465.03 L650.55,465.06 L650.88,465.09 L651.20,465.11 L651.53,465.13 L651.86,465.15 L652.18,465.17 L652.51,465.19 L652.83,465.21 L653.16,465.23 L653.49,465.25 L653.81,465.26 L654.14,465.28 L654.47,465.29 L654.79,465.30 L655.12,465.31 L655.44,465.33 L655.77,465.34 L656.10,465.35 L656.42,465.36 L656.75,465.37 L657.07,465.37 L657.40,465.38 L657.73,465.39 L658.05,465.40 L658.38,465.40 L658.71,465.41" stroke="#008000" stroke-width="1.7"/>
<path d="M365.51,465.47 L365.83,465.47 L366.16,465.47 L366.48,465.47 L366.81,465.47 L367.14,465.46 L367.46,465.46 L367.79,465.46 L368.11,465.46 L368.44,465.45 L368.77,465.45 L369.09,465.45 L369.42,465.44 L369.74,465.44 L370.07,465.43 L370.40,465.43 L370.72,465.42 L371.05,465.42 L371.38,465.41 L371.70,465.41 L372.03,465.40 L372.35,465.40 L372.68,465.39 L373.01,465.38 L373.33,465.38 L373.66,465.37 L373.98,465.36 L374.31,465.35 L374.64,465.34 L374.96,465.33 L375.29,465.32 L375.62,465.31 L375.94,465.30 L376.27,465.29 L376.59,465.27 L376.92,465.26 L377.25,465.25 L377.57,465.23 L377.90,465.21 L378.22,465.20 L378.55,465.18 L378.88,465.16 L379.20,465.14 L379.53,465.12 L379.86,465.10 L380.18,465.08 L380.51,465.05 L380.83,465.03 L381.16,465.00 L381.49,464.98 L381.81,464.95 L382.14,464.92 L382.46,464.88 L382.79,464.85 L383.12,464.82 L383.44,464.78 L383.77,464.74 L384.09,464.70 L384.42,464.66 L384.75,464.62 L385.07,464.57 L385.40,464.53 L385.73,464.48 L386.05,464.43 L386.38,464.37 L386.70,464.32 L387.03,464.26 L387.36,464.20 L387.68,464.13 L388.01,464.07 L388.33,464.00 L388.66,463.93 L388.99,463.85 L389.31,463.78 L389.64,463.70 L389.97,463.61 L390.29,463.53 L390.62,463.44 L390.94,463.34 L391.27,463.25 L391.60,463.15 L391.92,463.04 L392.25,462.93 L392.57,462.82 L392.90,462.71 L393.23,462.59 L393.55,462.46 L393.88,462.34 L394.21,462.20 L394.53,462.07 L394.86,461.93 L395.18,461.78 L395.51,461.63 L395.84,461.48 L396.16,461.32 L396.49,461.15 L396.81,460.98 L397.14,460.81 L397.47,460.63 L397.79,460.44 L398.12,460.25 L398.45,460.06 L398.77,459.85 L399.10,459.65 L399.42,459.44 L399.75,459.22 L400.08,458.99 L400.40,458.76 L400.73,458.53 L401.05,458.29 L401.38,458.04 L401.71,457.79 L402.03,457.53 L402.36,457.26 L402.68,456.99 L403.01,456.71 L403.34,456.43 L403.66,456.14 L403.99,455.85 L404.32,455.54 L404.64,455.24 L404.97,454.92 L405.29,454.60 L405.62,454.28 L405.95,453.95 L406.27,453.61 L406.60,453.27 L406.92,452.92 L407.25,452.56 L407.58,452.20 L407.90,451.84 L408.23,451.46 L408.56,451.09 L408.88,450.71 L409.21,450.32 L409.53,449.93 L409.86,449.53 L410.19,449.13 L410.51,448.72 L410.84,448.31 L411.16,447.89 L411.49,447.47 L411.82,447.05 L412.14,446.62 L412.47,446.19 L412.80,445.76 L413.12,445.32 L413.45,444.88 L413.77,444.44 L414.10,443.99 L414.43,443.54 L414.75,443.09 L415.08,442.64 L415.40,442.19 L415.73,441.73 L416.06,441.28 L416.38,440.82 L416.71,440.37 L417.04,439.91 L417.36,439.45 L417.69,439.00 L418.01,438.54 L418.34,438.09 L418.67,437.64 L418.99,437.19 L419.32,436.74 L419.64,436.29 L419.97,435.85 L420.30,435.41 L420.62,434.97 L420.95,434.54 L421.27,434.11 L421.60,433.69 L421.93,433.27 L422.25,432.86 L422.58,432.45 L422.91,432.05 L423.23,431.65 L423.56,431.26 L423.88,430.88 L424.21,430.50 L424.54,430.13 L424.86,429.77 L425.19,429.42 L425.51,429.08 L425.84,428.74 L426.17,428.41 L426.49,428.10 L426.82,427.79 L427.15,427.49 L427.47,427.21 L427.80,426.93 L428.12,426.66 L428.45,426.41 L428.78,426.17 L429.10,425.93 L429.43,425.71 L429.75,425.50 L430.08,425.31 L430.41,425.12 L430.73,424.95 L431.06,424.79 L431.39,424.64 L431.71,424.51 L432.04,424.39 L432.36,424.28 L432.69,424.19 L433.02,424.11 L433.34,424.04 L433.67,423.98 L433.99,423.94 L434.32,423.92 L434.65,423.90 L434.97,423.90 L435.30,423.92 L435.63,423.94 L435.95,423.98 L436.28,424.04 L436.60,424.11 L436.93,424.19 L437.26,424.28 L437.58,424.39 L437.91,424.51 L438.23,424.64 L438.56,424.79 L438.89,424.95 L439.21,425.12 L439.54,425.31 L439.86,425.50 L440.19,425.71 L440.52,425.93 L440.84,426.16 L441.17,426.41 L441.50,426.66 L441.82,426.93 L442.15,427.21 L442.47,427.49 L442.80,427.79 L443.13,428.10 L443.45,428.41 L443.78,428.74 L444.10,429.08 L444.43,429.42 L444.76,429.77 L445.08,430.13 L445.41,430.50 L445.74,430.88 L446.06,431.26 L446.39,431.65 L446.71,432.05 L447.04,432.45 L447.37,432.86 L447.69,433.27 L448.02,433.69 L448.34,434.11 L448.67,434.54 L449.00,434.97 L449.32,435.41 L449.65,435.85 L449.98,436.29 L450.30,436.74 L450.63,437.19 L450.95,437.64 L451.28,438.09 L451.61,438.54 L451.93,439.00 L452.26,439.45 L452.58,439.91 L452.91,440.36 L453.24,440.82 L453.56,441.28 L453.89,441.73 L454.22,442.19 L454.54,442.64 L454.87,443.09 L455.19,443.54 L455.52,443.99 L455.85,444.43 L456.17,444.88 L456.50,445.32 L456.82,445.76 L457.15,446.19 L457.48,446.62 L457.80,447.05 L458.13,447.47 L458.45,447.89 L458.78,448.31 L459.11,448.72 L459.43,449.13 L459.76,449.53 L460.09,449.92 L460.41,450.32 L460.74,450.70 L461.06,451.09 L461.39,451.46 L461.72,451.83 L462.04,452.20 L462.37,452.56 L462.69,452.92 L463.02,453.27 L463.35,453.61 L463.67,453.95 L464.00,454.28 L464.33,454.60 L464.65,454.92 L464.98,455.24 L465.30,455.54 L465.63,455.85 L465.96,456.14 L466.28,456.43 L466.61,456.71 L466.93,456.99 L467.26,457.26 L467.59,457.53 L467.91,457.79 L468.24,458.04 L468.57,458.29 L468.89,458.53 L469.22,458.76 L469.54,458.99 L469.87,459.22 L470.20,459.43 L470.52,459.65 L470.85,459.85 L471.17,460.06 L471.50,460.25 L471.83,460.44 L472.15,460.63 L472.48,460.81 L472.81,460.98 L473.13,461.15 L473.46,461.32 L473.78,461.48 L474.11,461.63 L474.44,461.78 L474.76,461.93 L475.09,462.07 L475.41,462.20 L475.74,462.34 L476.07,462.46 L476.39,462.59 L476.72,462.71 L477.04,462.82 L477.37,462.93 L477.70,463.04 L478.02,463.15 L478.35,463.25 L478.68,463.34 L479.00,463.44 L479.33,463.53 L479.65,463.61 L479.98,463.69 L480.31,463.78 L480.63,463.85 L480.96,463.93 L481.28,464.00 L481.61,464.07 L481.94,464.13 L482.26,464.20 L482.59,464.26 L482.92,464.32 L483.24,464.37 L483.57,464.42 L483.89,464.48 L484.22,464.53 L484.55,464.57 L484.87,464.62 L485.20,464.66 L485.52,464.70 L485.85,464.74 L486.18,464.78 L486.50,464.82 L486.83,464.85 L487.16,464.88 L487.48,464.92 L487.81,464.95 L488.13,464.97 L488.46,465.00 L488.79,465.03 L489.11,465.05 L489.44,465.08 L489.76,465.10 L490.09,465.12 L490.42,465.14 L490.74,465.16 L491.07,465.18 L491.40,465.20 L491.72,465.21 L492.05,465.23 L492.37,465.24 L492.70,465.26 L493.03,465.27 L493.35,465.28 L493.68,465.30 L494.00,465.31 L494.33,465.32 L494.66,465.33 L494.98,465.34 L495.31,465.35 L495.63,465.36 L495.96,465.36 L496.29,465.37 L496.61,465.38 L496.94,465.39 L497.27,465.39 L497.59,465.40 L497.92,465.40 L498.24,465.41 L498.57,465.41 L498.90,465.42 L499.22,465.42 L499.55,465.43 L499.87,465.43 L500.20,465.43 L500.53,465.44 L500.85,465.44 L501.18,465.44 L501.51,465.44 L501.83,465.44 L502.16,465.45 L502.48,465.45 L502.81,465.45 L503.14,465.45 L503.46,465.45 L503.79,465.45 L504.11,465.45 L504.44,465.45 L504.77,465.45 L505.09,465.45 L505.42,465.45 L505.75,465.45 L506.07,465.45 L506.40,465.45 L506.72,465.45 L507.05,465.45 L507.38,465.44 L507.70,465.44 L508.03,465.44 L508.35,465.44 L508.68,465.44 L509.01,465.43 L509.33,465.43 L509.66,465.43 L509.99,465.42 L510.31,465.42 L510.64,465.41 L510.96,465.41 L511.29,465.41 L511.62,465.40 L511.94,465.40 L512.27,465.39 L512.59,465.38 L512.92,465.38 L513.25,465.37 L513.57,465.37 L513.90,465.36 L514.22,465.35 L514.55,465.34 L514.88,465.33 L515.20,465.33 L515.53,465.32 L515.86,465.31 L516.18,465.30 L516.51,465.29 L516.83,465.28 L517.16,465.26 L517.49,465.25 L517.81,465.24 L518.14,465.23 L518.46,465.21 L518.79,465.20 L519.12,465.18 L519.44,465.16 L519.77,465.15 L520.10,465.13 L520.42,465.11 L520.75,465.09 L521.07,465.07 L521.40,465.04 L521.73,465.02 L522.05,464.99 L522.38,464.97 L522.70,464.94 L523.03,464.91 L523.36,464.87 L523.68,464.84 L524.01,464.80 L524.34,464.76 L524.66,464.72 L524.99,464.67 L525.31,464.63 L525.64,464.58 L525.97,464.52 L526.29,464.47 L526.62,464.41 L526.94,464.34 L527.27,464.27 L527.60,464.20 L527.92,464.13 L528.25,464.05 L528.58,463.96 L528.90,463.87 L529.23,463.78 L529.55,463.67 L529.88,463.57 L530.21,463.46 L530.53,463.34 L530.86,463.21 L531.18,463.08 L531.51,462.95 L531.84,462.80 L532.16,462.65 L532.49,462.49 L532.81,462.33 L533.14,462.15 L533.47,461.97 L533.79,461.78 L534.12,461.58 L534.45,461.37 L534.77,461.16 L535.10,460.93 L535.42,460.70 L535.75,460.45 L536.08,460.20 L536.40,459.93 L536.73,459.66 L537.05,459.38 L537.38,459.08 L537.71,458.78 L538.03,458.46 L538.36,458.13 L538.69,457.80 L539.01,457.45 L539.34,457.08 L539.66,456.71 L539.99,456.33 L540.32,455.93 L540.64,455.52 L540.97,455.10 L541.29,454.66 L541.62,454.22 L541.95,453.76 L542.27,453.28 L542.60,452.80 L542.93,452.30 L543.25,451.78 L543.58,451.26 L543.90,450.71 L544.23,450.16 L544.56,449.59 L544.88,449.00 L545.21,448.40 L545.53,447.79 L545.86,447.16 L546.19,446.51 L546.51,445.85 L546.84,445.18 L547.17,444.49 L547.49,443.78 L547.82,443.06 L548.14,442.32 L548.47,441.57 L548.80,440.79 L549.12,440.01 L549.45,439.20 L549.77,438.38 L550.10,437.55 L550.43,436.69 L550.75,435.83 L551.08,434.94 L551.40,434.04 L551.73,433.12 L552.06,432.18 L552.38,431.23 L552.71,430.26 L553.04,429.28 L553.36,428.28 L553.69,427.26 L554.01,426.23 L554.34,425.18 L554.67,424.12 L554.99,423.04 L555.32,421.95 L555.64,420.84 L555.97,419.71 L556.30,418.57 L556.62,417.42 L556.95,416.26 L557.28,415.08 L557.60,413.88 L557.93,412.68 L558.25,411.46 L558.58,410.23 L558.91,408.99 L559.23,407.74 L559.56,406.48 L559.88,405.20 L560.21,403.92 L560.54,402.63 L560.86,401.33 L561.19,400.03 L561.52,398.71 L561.84,397.39 L562.17,396.07 L562.49,394.73 L562.82,393.40 L563.15,392.06 L563.47,390.71 L563.80,389.37 L564.12,388.02 L564.45,386.67 L564.78,385.33 L565.10,383.98 L565.43,382.63 L565.76,381.29 L566.08,379.95 L566.41,378.61 L566.73,377.28 L567.06,375.95 L567.39,374.63 L567.71,373.32 L568.04,372.01 L568.36,370.72 L568.69,369.43 L569.02,368.16 L569.34,366.89 L569.67,365.64 L569.99,364.41 L570.32,363.18 L570.65,361.98 L570.97,360.79 L571.30,359.61 L571.63,358.46 L571.95,357.32 L572.28,356.20 L572.60,355.11 L572.93,354.03 L573.26,352.98 L573.58,351.95 L573.91,350.94 L574.23,349.96 L574.56,349.00 L574.89,348.07 L575.21,347.17 L575.54,346.30 L575.87,345.45 L576.19,344.63 L576.52,343.84 L576.84,343.09 L577.17,342.36 L577.50,341.67 L577.82,341.00 L578.15,340.37 L578.47,339.78 L578.80,339.22 L579.13,338.69 L579.45,338.19 L579.78,337.74 L580.11,337.31 L580.43,336.93 L580.76,336.58 L581.08,336.26 L581.41,335.99 L581.74,335.75 L582.06,335.55 L582.39,335.38 L582.71,335.25 L583.04,335.17 L583.37,335.11 L583.69,335.10 L584.02,335.12 L584.35,335.19 L584.67,335.29 L585.00,335.42 L585.32,335.60 L585.65,335.81 L585.98,336.06 L586.30,336.35 L586.63,336.67 L586.95,337.04 L587.28,337.43 L587.61,337.86 L587.93,338.33 L588.26,338.84 L588.58,339.37 L588.91,339.95 L589.24,340.55 L589.56,341.19 L589.89,341.86 L590.22,342.57 L590.54,343.30 L590.87,344.07 L591.19,344.86 L591.52,345.69 L591.85,346.55 L592.17,347.43 L592.50,348.34 L592.82,349.28 L593.15,350.24 L593.48,351.23 L593.80,352.24 L594.13,353.28 L594.46,354.34 L594.78,355.42 L595.11,356.52 L595.43,357.65 L595.76,358.79 L596.09,359.95 L596.41,361.13 L596.74,362.32 L597.06,363.54 L597.39,364.76 L597.72,366.00 L598.04,367.26 L598.37,368.52 L598.70,369.80 L599.02,371.09 L599.35,372.39 L599.67,373.69 L600.00,375.01 L600.33,376.33 L600.65,377.66 L600.98,378.99 L601.30,380.33 L601.63,381.67 L601.96,383.02 L602.28,384.37 L602.61,385.71 L602.94,387.06 L603.26,388.41 L603.59,389.76 L603.91,391.10 L604.24,392.44 L604.57,393.78 L604.89,395.12 L605.22,396.45 L605.54,397.77 L605.87,399.09 L606.20,400.40 L606.52,401.71 L606.85,403.00 L607.17,404.29 L607.50,405.57 L607.83,406.84 L608.15,408.10 L608.48,409.34 L608.81,410.58 L609.13,411.81 L609.46,413.02 L609.78,414.22 L610.11,415.41 L610.44,416.58 L610.76,417.74 L611.09,418.89 L611.41,420.02 L611.74,421.14 L612.07,422.24 L612.39,423.33 L612.72,424.40 L613.05,425.46 L613.37,426.50 L613.70,427.53 L614.02,428.54 L614.35,429.53 L614.68,430.50 L615.00,431.46 L615.33,432.41 L615.65,433.33 L615.98,434.24 L616.31,435.13 L616.63,436.01 L616.96,436.87 L617.29,437.71 L617.61,438.53 L617.94,439.34 L618.26,440.13 L618.59,440.91 L618.92,441.66 L619.24,442.40 L619.57,443.13 L619.89,443.84 L620.22,444.53 L620.55,445.20 L620.87,445.86 L621.20,446.51 L621.53,447.13 L621.85,447.75 L622.18,448.34 L622.50,448.92 L622.83,449.49 L623.16,450.04 L623.48,450.58 L623.81,451.10 L624.13,451.61 L624.46,452.10 L624.79,452.58 L625.11,453.05 L625.44,453.50 L625.76,453.94 L626.09,454.37 L626.42,454.79 L626.74,455.19 L627.07,455.58 L627.40,455.96 L627.72,456.32 L628.05,456.68 L628.37,457.02 L628.70,457.35 L629.03,457.68 L629.35,457.99 L629.68,458.29 L630.00,458.58 L630.33,458.86 L630.66,459.13 L630.98,459.39 L631.31,459.65 L631.64,459.89 L631.96,460.13 L632.29,460.35 L632.61,460.57 L632.94,460.78 L633.27,460.99 L633.59,461.18 L633.92,461.37 L634.24,461.55 L634.57,461.73 L634.90,461.89 L635.22,462.06 L635.55,462.21 L635.88,462.36 L636.20,462.50 L636.53,462.64 L636.85,462.77 L637.18,462.90 L637.51,463.02 L637.83,463.14 L638.16,463.25 L638.48,463.36 L638.81,463.46 L639.14,463.56 L639.46,463.65 L639.79,463.74 L640.12,463.83 L640.44,463.91 L640.77,463.99 L641.09,464.06 L641.42,464.14 L641.75,464.20 L642.07,464.27 L642.40,464.33 L642.72,464.39 L643.05,464.45 L643.38,464.50 L643.70,464.56 L644.03,464.60 L644.35,464.65 L644.68,464.70 L645.01,464.74 L645.33,464.78 L645.66,464.82 L645.99,464.85 L646.31,464.89 L646.64,464.92 L646.96,464.95 L647.29,464.98 L647.62,465.01 L647.94,465.04 L648.27,465.07 L648.59,465.09 L648.92,465.11 L649.25,465.14 L649.57,465.16 L649.90,465.18 L650.23,465.19 L650.55,465.21 L650.88,465.23 L651.20,465.24 L651.53,465.26 L651.86,465.27 L652.18,465.29 L652.51,465.30 L652.83,465.31 L653.16,465.32 L653.49,465.33 L653.81,465.34 L654.14,465.35 L654.47,465.36 L654.79,465.37 L655.12,465.38 L655.44,465.39 L655.77,465.39 L656.10,465.40 L656.42,465.41 L656.75,465.41 L657.07,465.42 L657.40,465.42 L657.73,465.43 L658.05,465.43 L658.38,465.44 L658.71,465.44" stroke="#000000" stroke-width="1.85"/>
</g>
<text transform="translate(376.60,484.9) scale(1,1.05)" text-anchor="middle" font-size="15.35">536</text>
<text transform="translate(450.20,484.9) scale(1,1.05)" text-anchor="middle" font-size="15.35">534</text>
<text transform="translate(523.80,484.9) scale(1,1.05)" text-anchor="middle" font-size="15.35">532</text>
<text transform="translate(597.40,484.9) scale(1,1.05)" text-anchor="middle" font-size="15.35">530</text>
<text transform="translate(510.83,501.7) scale(1,1.1)" text-anchor="middle" font-size="15.55">Binding energy (eV)</text>
<text transform="translate(360.70,236.8) rotate(-90)" text-anchor="middle" font-size="15.72">Intensity (arb. units)</text>
<text x="382.20" y="36.7" font-size="27.8">(b)</text></svg>
</body></html>
